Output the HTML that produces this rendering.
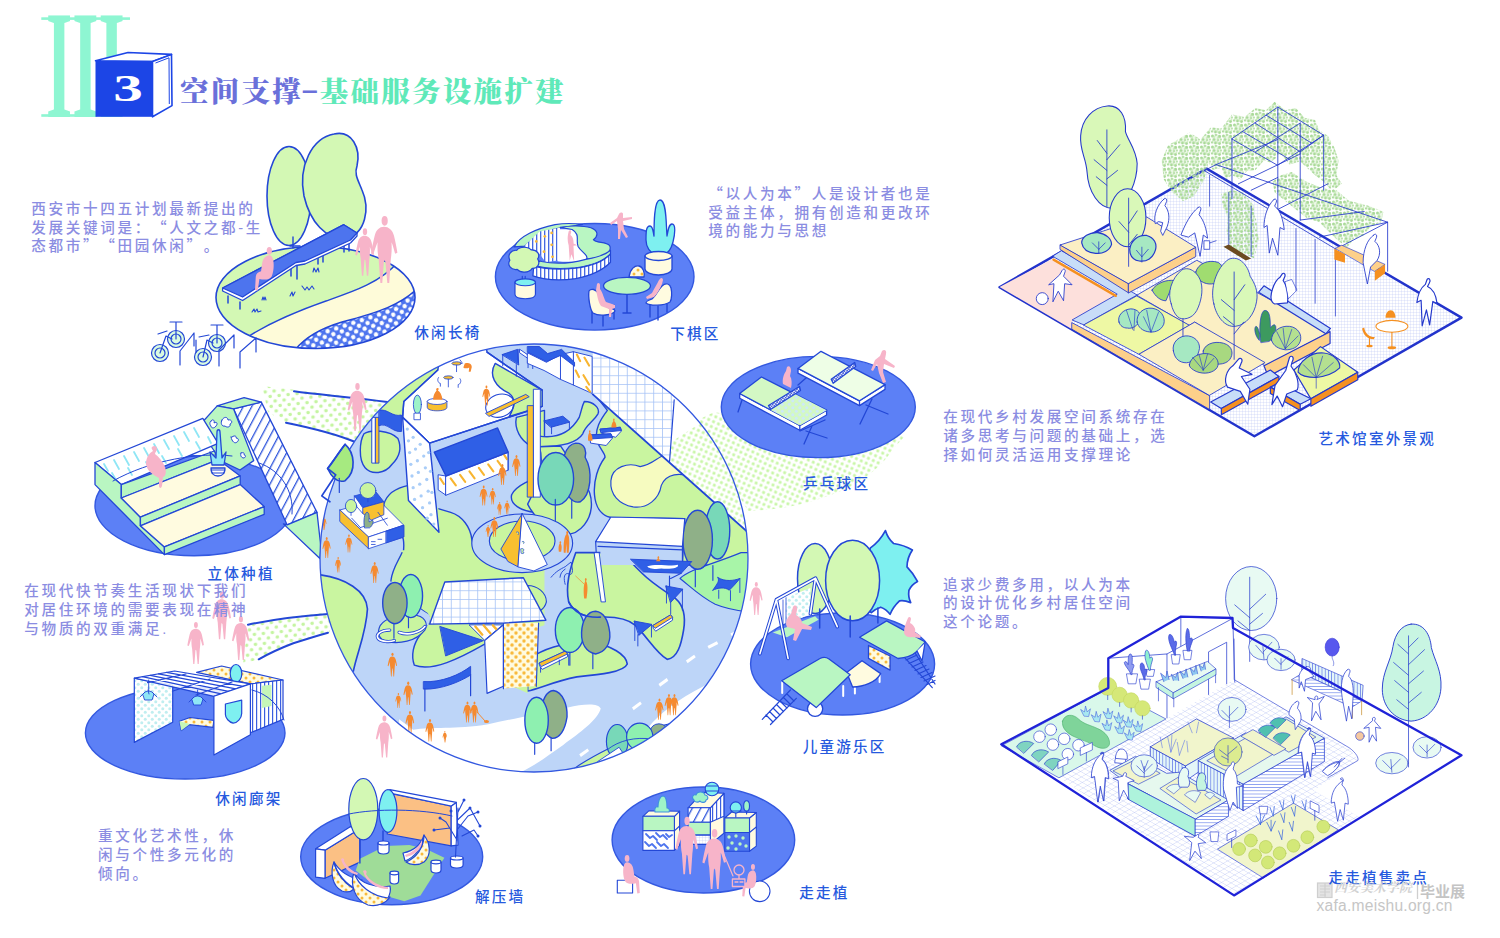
<!DOCTYPE html>
<html lang="zh-CN"><head><meta charset="utf-8"><title>空间支撑-基础服务设施扩建</title>
<style>
html,body{margin:0;padding:0;background:#fff}
#pg{position:relative;width:1500px;height:938px;overflow:hidden;background:#fff;font-family:"Liberation Sans","Noto Sans CJK SC",sans-serif}
.t{position:absolute;white-space:nowrap;color:#8b8de2;font-size:14.6px;line-height:18.75px;letter-spacing:2.65px;font-weight:500}
.l{position:absolute;white-space:nowrap;color:#2659de;font-size:14.6px;line-height:18px;letter-spacing:2.2px;font-weight:500}
.q{font-family:"Noto Sans CJK SC",sans-serif;line-height:0}
.dash{display:inline-block;width:16.7px;text-align:center;transform:scaleX(1.9) translate(-0.8px,-3.5px);letter-spacing:0}
.t,.l{text-spacing-trim:space-all;font-feature-settings:"fwid" 1}
.ttl{position:absolute;white-space:nowrap;font-family:"Liberation Serif","Noto Serif CJK SC",serif;font-weight:900;font-size:28.5px;line-height:34px;letter-spacing:2.25px}
.wm{position:absolute;white-space:nowrap;color:#c9c9c9}
svg text{font-family:"Liberation Serif","Noto Serif CJK SC",serif}
</style></head><body><div id="pg">
<svg width="1500" height="938" viewBox="0 0 1500 938" style="position:absolute;left:0;top:0">
<!-- defs.svg -->
<defs>
<pattern id="pDotB" width="9" height="9" patternUnits="userSpaceOnUse" patternTransform="rotate(-18)"><rect width="9" height="9" fill="#4d74ee"/><circle cx="2.25" cy="2.25" r="2.2" fill="#fff"/><circle cx="6.75" cy="6.75" r="2.2" fill="#fff"/></pattern>
<pattern id="pHalf" width="9" height="10" patternUnits="userSpaceOnUse" patternTransform="rotate(-6)"><circle cx="2.250" cy="2.500" r="1.800" fill="#c4f4a0"/><circle cx="6.750" cy="7.500" r="1.800" fill="#c4f4a0"/></pattern>
<pattern id="pHalf2" width="7.600" height="7.600" patternUnits="userSpaceOnUse" patternTransform="rotate(-20)"><circle cx="1.900" cy="1.900" r="1.600" fill="#c9f6a8"/><circle cx="5.700" cy="5.700" r="1.600" fill="#c9f6a8"/></pattern>
<pattern id="pGrid" width="5.2" height="5.2" patternUnits="userSpaceOnUse"><rect width="5.2" height="5.2" fill="#fff"/><path d="M0 0H5.2M0 0V5.2" stroke="#7d9af2" stroke-width="0.9" fill="none"/></pattern>
<pattern id="pGridF" width="3" height="3" patternUnits="userSpaceOnUse"><rect width="3" height="3" fill="#fff"/><path d="M0 0H3M0 0V3" stroke="#bcc6f6" stroke-width="0.55" fill="none"/></pattern>
<pattern id="pHatch" width="7.5" height="7.5" patternUnits="userSpaceOnUse" patternTransform="rotate(28)"><rect width="7.5" height="7.5" fill="#fff"/><rect width="1.3" height="7.5" fill="#2f55dc"/></pattern>
<pattern id="pDotO" width="8" height="8" patternUnits="userSpaceOnUse"><rect width="8" height="8" fill="#fffbe0"/><circle cx="2" cy="2" r="1.5" fill="#f8b93a"/><circle cx="6" cy="6" r="1.5" fill="#f8b93a"/></pattern>
<pattern id="pDotL" width="7" height="7" patternUnits="userSpaceOnUse"><rect width="7" height="7" fill="#fff"/><circle cx="1.75" cy="1.75" r="1.5" fill="#a9cdf8"/><circle cx="5.25" cy="5.25" r="1.5" fill="#a9cdf8"/></pattern>
<pattern id="pDotC" width="7" height="7" patternUnits="userSpaceOnUse"><rect width="7" height="7" fill="#fff"/><circle cx="1.75" cy="1.75" r="1.5" fill="#bfeef0"/><circle cx="5.25" cy="5.25" r="1.5" fill="#bfeef0"/></pattern>
<pattern id="pVbar" width="4" height="4" patternUnits="userSpaceOnUse"><rect width="4" height="4" fill="#fff"/><rect width="1.2" height="4" fill="#3a5fe0"/></pattern>
<pattern id="pHbar" width="3" height="3" patternUnits="userSpaceOnUse"><rect width="3" height="3" fill="#fff"/><rect width="3" height="0.9" fill="#5f7fe8"/></pattern>
<pattern id="pBrick" width="6" height="5" patternUnits="userSpaceOnUse" patternTransform="matrix(0.87 0.5 -0.87 0.5 0 0)"><rect width="6" height="5" fill="#fff"/><path d="M0 0H6M0 0V5" stroke="#b3bff3" stroke-width="0.7" fill="none"/></pattern>
<pattern id="pGridC" width="8.8" height="8.8" patternUnits="userSpaceOnUse"><rect width="8.8" height="8.8" fill="#fff"/><path d="M0 0H8.8M0 0V8.8" stroke="#a5c2f6" stroke-width="1.6" fill="none"/></pattern>
<pattern id="pDotO2" width="8" height="8" patternUnits="userSpaceOnUse"><rect width="8" height="8" fill="#fffbe0"/><circle cx="2" cy="2" r="1.700" fill="#f8b93a"/><circle cx="6" cy="6" r="1.700" fill="#f8b93a"/></pattern>
<pattern id="pVine" width="11" height="11" patternUnits="userSpaceOnUse"><g fill="#a9d998"><circle cx="1.500" cy="2" r="1.500"/><circle cx="5" cy="1" r="1.200"/><circle cx="8.500" cy="2.500" r="1.700"/><circle cx="3" cy="5.500" r="1.700"/><circle cx="7" cy="6" r="1.300"/><circle cx="10" cy="5.500" r="1"/><circle cx="1" cy="8.500" r="1.200"/><circle cx="4.500" cy="9" r="1.600"/><circle cx="8.500" cy="9.500" r="1.500"/></g><g fill="#c9ecb8"><circle cx="3.500" cy="2.800" r="1"/><circle cx="6.500" cy="3.800" r="1"/><circle cx="9.500" cy="7.800" r="1"/><circle cx="2" cy="6.800" r="0.800"/><circle cx="6.300" cy="8.300" r="0.900"/></g></pattern>
<pattern id="pVbarL" width="3.200" height="3.200" patternUnits="userSpaceOnUse"><rect width="3.200" height="3.200" fill="#e4f6f8"/><rect width="0.800" height="3.200" fill="#6f86ea"/></pattern>
<pattern id="pHbarS" width="3.200" height="3.200" patternUnits="userSpaceOnUse" patternTransform="scale(4.69)"><rect width="3.200" height="3.200" fill="#fff"/><rect width="3.200" height="0.800" fill="#7f95ee"/></pattern>
<pattern id="pVbarLS" width="3.200" height="3.200" patternUnits="userSpaceOnUse" patternTransform="scale(4.69)"><rect width="3.200" height="3.200" fill="#e4f6f8"/><rect width="0.800" height="3.200" fill="#6f86ea"/></pattern>
<pattern id="pDotL2" width="7" height="7" patternUnits="userSpaceOnUse"><rect width="7" height="7" fill="#d3f8c4"/><circle cx="1.750" cy="1.750" r="1.500" fill="#cdeaf6"/><circle cx="5.250" cy="5.250" r="1.500" fill="#cdeaf6"/></pattern>
<pattern id="pNet" width="2.200" height="2.200" patternUnits="userSpaceOnUse" patternTransform="rotate(35)"><rect width="2.200" height="2.200" fill="#e8ecfb"/><path d="M0 0H2.200M0 0V2.200" stroke="#2f4ad0" stroke-width="1.100" fill="none"/></pattern>
<pattern id="pVbarS" width="4" height="4" patternUnits="userSpaceOnUse" patternTransform="scale(5.8625)"><rect width="4" height="4" fill="#fff"/><rect width="1.200" height="4" fill="#3a5fe0"/></pattern>
<symbol id="man" viewBox="0 0 20 50" overflow="visible"><ellipse cx="10.5" cy="3.6" rx="2.3" ry="3.6"/><path d="M10 8C13.5 8 16.5 10.500 17.500 15C18.500 19 19.500 24 20 27.500L18.300 28.200C17.500 25 16.500 21.500 15.600 19.500C15.900 24 15.700 28 15.100 32L13.900 50L12.500 50L11 34L10 33L8.700 50L7.300 50L6 32C5.200 28 5 24 5.200 19.500C4.200 22 3 25.500 2 28.700L0.300 28C1 24 2 19 3 15C4 10.500 6.500 8 10 8Z"/></symbol>
<symbol id="sit" viewBox="0 0 20 40" overflow="visible"><ellipse cx="7" cy="3.5" rx="2.4" ry="3.5"/><path d="M7 7.5C11 8 13 11 13.5 15L14.5 22C17 22.5 19 24 19.3 27L20 39L17.5 39.5L16 29C12 30 7 30 5 27C3 23 2.5 16 3.5 11.5C4 9 5.5 7.5 7 7.5Z"/></symbol>
<clipPath id="cBench"><ellipse cx="315.5" cy="297.5" rx="99.5" ry="51"/></clipPath>
<clipPath id="cMain"><circle cx="534" cy="558" r="214"/></clipPath>
</defs>

<!-- halftone.svg -->
<g id="halftone" stroke-linecap="round" stroke-linejoin="round">
<path d="M262 386L296 390C330 395 352 395 388 402L400 420L358 444C336 436 310 428 286 423L268 412Z" fill="url(#pHalf)"/>
<path d="M294 391.300C320 395 350 396.700 387.300 402M286 422.700C312 428 336 434 355.300 442" fill="none" stroke="#2347d6" stroke-width="2"/>
<path d="M330 612C300 616 275 618 248 624L243 664L258.700 659.300C272 652 284 646 293.300 643.300C306 639 318 636 330 632.700Z" fill="url(#pHalf)"/>
<path d="M328 614C300 616 275 619 248 624.700M328 632.700C316 636 305 639.500 293.300 643.300C281 648 270 653 258.700 659.300" fill="none" stroke="#2347d6" stroke-width="2"/>
<path d="M690 424L714 412L760 420L905 436L893 449C886 460 878 468 867 476C854 486 840 492 825 497C800 506 775 510 748 511L730 480Z" fill="url(#pHalf2)"/>
</g>

<!-- bench.svg -->
<g id="bench" stroke-linejoin="round" stroke-linecap="round">
<g clip-path="url(#cBench)">
<rect x="215" y="245" width="202" height="106" fill="#d3f8b4"/>
<path d="M398 262C380 283 352 292 326 301C306 308 278 318 249 336L240 352L420 352L420 262Z" fill="#fefbd9" stroke="#2347d6" stroke-width="1.4"/>
<path d="M418 288C400 305 380 312 342 322C322 328 306 336 295 350L420 352Z" fill="url(#pDotB)" stroke="#2347d6" stroke-width="1.4"/>
</g>
<ellipse cx="315.5" cy="297.5" rx="99.5" ry="51" fill="none" stroke="#2347d6" stroke-width="1.6"/>
<ellipse cx="289" cy="196" rx="22" ry="49.5" fill="#d3f8b4" stroke="#2347d6" stroke-width="1.6"/>
<path d="M334 134C352 130 361 148 357 166C354 174 358 180 362 190C370 208 366 234 346 238C326 240 310 222 304 196C298 166 312 138 334 134Z" fill="#d3f8b4" stroke="#2347d6" stroke-width="1.6"/>
<path d="M293 237V248M290 246H300" stroke="#2347d6" stroke-width="1.4" fill="none"/>
<path d="M228 296V303M240 302V309M291 266V276M297 264V279M318 258V264M323 256V262M344 246V252M349 244V251" stroke="#2347d6" stroke-width="1.5" fill="none"/>
<polygon points="222.6,288 343.8,224.7 357,233 357,236 350.5,243 305,264 296,265.5 242.6,300.5 222.6,291" fill="#fff" stroke="#2347d6" stroke-width="1.3"/>
<polygon points="222.6,288 343.8,224.7 357,233 350.5,240 305,261 296,262.5 242.6,297" fill="#4d74ee" stroke="#2347d6" stroke-width="1.3"/>
<path d="M252 312l2-3 1 3 2-3 1 3 3-1M262 300l1-3 1 3 1-3 1 3M290 296l2-4 1 4 2-4M302 286l3 4 2-3 2 3 3-4 2 3M313 272l1-4 2 4 2-4 1 4" stroke="#2347d6" stroke-width="1.1" fill="none"/>
<use href="#sit" x="255" y="247" width="22" height="44" fill="#f7b4c9" transform="translate(532 0) scale(-1 1)"/>
<use href="#man" x="355" y="228" width="19" height="48" fill="#f7b4c9"/>
<use href="#man" x="369" y="216" width="30" height="67" fill="#f7b4c9"/>
<g stroke="#2347d6" stroke-width="1.2" fill="none">
<circle cx="160" cy="353" r="8.5" fill="#d9fbe0"/><circle cx="176" cy="339" r="8.5" fill="#d9fbe0"/><circle cx="160" cy="353" r="5"/><circle cx="176" cy="339" r="5"/>
<path d="M160 353L166 336L172 339M158 334L167 331M176 339V322M170 322H182"/>
<circle cx="203" cy="357" r="8.5" fill="#d9fbe0"/><circle cx="217" cy="343" r="8.5" fill="#d9fbe0"/><circle cx="203" cy="357" r="5"/><circle cx="217" cy="343" r="5"/>
<path d="M203 357L207 340L213 343M199 337L209 335M217 343V325M211 325H223"/>
<path d="M180 365V351L194 333V346M196 352V340M219 366V350L234 335V348M240 368V352L256 338V352"/>
</g>
</g>

<!-- chess.svg -->
<g id="chess" stroke-linejoin="round" stroke-linecap="round" stroke="#2347d6" stroke-width="1.3">
<ellipse cx="594.7" cy="276.8" rx="99.3" ry="53.3" fill="#5c80f6" stroke="#3358e0" stroke-width="1.4"/>
<!-- ring planter -->
<g transform="translate(480 180) scale(0.17058)" stroke-width="7">
<path d="M200 392C230 330 330 285 440 262C500 252 560 255 600 262L470 280C400 290 320 330 262 388Z" fill="#b9f6c2"/>
<polygon points="258,388 350,302 470,278 462,470 385,482 345,428" fill="url(#pVbarS)" stroke="none"/>
<g fill="#f8b93a" stroke="none"><circle cx="380" cy="330" r="8"/><circle cx="420" cy="380" r="8"/><circle cx="375" cy="420" r="8"/><circle cx="425" cy="450" r="8"/><circle cx="420" cy="310" r="8"/><circle cx="330" cy="360" r="8"/></g>
<path d="M455 288L540 288C590 320 560 380 600 420C620 440 640 452 620 468C580 482 500 482 455 476Z" fill="#fff" stroke="none"/>
<path d="M470 278C520 268 600 265 650 280C700 300 690 330 665 350C680 372 740 360 760 385C770 405 760 420 740 435C700 455 660 462 625 462C640 440 590 420 575 390C560 350 590 320 540 290Z" fill="#b9f6c2"/>
<path d="M320 500C340 480 350 470 360 478C420 490 520 492 620 465C680 455 740 435 765 412L765 432C720 480 640 505 560 515C480 522 390 522 320 500Z" fill="#b9f6c2"/>
<path d="M315 505C390 525 480 525 560 517C640 507 720 482 765 434L765 482C720 530 640 562 560 578C480 590 390 590 310 562Z" fill="url(#pVbarS)"/>
<path d="M520 300c6-10 18-6 14 8l-4 14c14 10 20 30 18 50l24 10-24 4 4 90-16-40-10 38-6-90c-10-30-6-60 0-84z" fill="#f7b4c9" stroke="none"/>
<path d="M175 470c-15-30 5-60 40-58 20-25 70-22 85-2 35-2 55 28 38 52 18 28-2 58-32 56-18 28-70 28-88 6-38 6-60-26-43-54z" fill="#d3f8b4"/>
<path d="M248 565v35M265 565v35" fill="none"/>
<path d="M205 600v70c0 16 26 26 60 26s60-10 60-26v-70z" fill="#fffbe0"/><ellipse cx="265" cy="600" rx="60" ry="20" fill="#7ef0f0"/>
</g>
<!-- cactus -->
<path d="M656 255c-6-2-10-8-10-15 0-8 0-14 4-14 3 0 3 6 4 10 0-12 0-36 6-36 7 0 6 26 7 36 1-6 2-12 5-12 4 0 3 10 1 18-2 8-6 12-10 13z" fill="#7ef0f0"/>
<path d="M645 256v13c0 3 6 6 13.500 6s13.500-3 13.500-6v-13z" fill="#fffbe0"/><ellipse cx="658.500" cy="256" rx="13.500" ry="4.500" fill="#fffbe0"/>
<!-- back chair -->
<path d="M629 277c1-8 6-12 10-11 4 1 6 7 5 11z" fill="url(#pDotO)"/>
<!-- table -->
<path d="M627 294V313M623 313H631" fill="none" stroke-width="1.5"/>
<ellipse cx="627" cy="285.800" rx="23.500" ry="8.500" fill="#b9f6c2"/>
<!-- chairs -->
<path d="M592 323V302M603 326V306M614 319V305" fill="none" stroke-width="1.4"/>
<path d="M589 291c2-3 7-2 10 3 3 5 5 11 8 13 4 1 8 2 8 4-2 4-16 6-22 2-3-3-5-16-4-22z" fill="#fffbe0"/>
<path d="M650 317V304M658 320V306M667 312V301" fill="none" stroke-width="1.4"/>
<path d="M671 288c-1-4-5-6-9-2-4 4-6 10-10 13-3 1-6 2-6 4 4 3 18 3 24-1 2-3 2-10 1-14z" fill="#fffbe0"/>
<path d="M597 284c1-2 3-1 3 1l0 4c3 4 4 10 6 13l9 3 0 3-3 1-1 8-2 0 0-8-8-3c-3-4-4-12-5-16z" fill="#f7b4c9" stroke="none"/>
<path d="M660 279c1-2 3-1 3 1l-1 4c-2 5-5 10-8 13l-7 2-1-2 6-4c2-4 5-9 7-13z" fill="#f7b4c9" stroke="none"/>
<path d="M619 214c1-2 4-2 4 0l0 4 9-1 0 2-9 2 1 8 4 8-2 1-5-8-1 9-2 0 0-10-1-8-6 4-1-2 7-5z" fill="#f7b4c9" stroke="none"/>
</g>

<!-- pingpong.svg -->
<g id="pingpong" stroke-linejoin="round" stroke-linecap="round" stroke="#2347d6" stroke-width="1.3">
<ellipse cx="818.3" cy="407" rx="97" ry="50.6" fill="#5c80f6" stroke="#3358e0" stroke-width="1.4"/>
<path d="M742 400L738 412M800 431L825 420M812 426L804 444M806 431L827 438" fill="none"/>
<polygon points="739.7,393.5 799.8,425.5 826.6,410.2 826.6,415 799.8,430.3 739.7,398.300" fill="#fff"/>
<polygon points="739.7,393.5 761.4,377 826.6,410.2 799.8,425.5" fill="#d3f8c4"/>
<polygon points="769.750,409.500 794,393.600 826.6,410.2 799.8,425.5" fill="url(#pDotL2)" stroke="none"/>
<path d="M799.8 425.5V430.3" fill="none"/>
<polygon points="768.5,405.5 799.5,386.500 800.5,390.500 770.5,409.500" fill="url(#pNet)"/>
<path d="M806 378L798 385M860 402L881 392M872 399L860 424M866 405L888 414" fill="none"/>
<polygon points="798,368.4 859.5,400.8 885,384.6 885,389.400 859.5,405.600 798,373.200" fill="#fff"/>
<polygon points="798,368.4 821,351.3 885,384.6 859.5,400.8" fill="#eefee6"/>
<path d="M859.5 400.8V405.6" fill="none"/>
<polygon points="831.2,379.300 854.7,362.500 855.7,366.500 833.2,383.300" fill="url(#pNet)"/>
<path d="M787 367c2-2 4 0 4 4l-1 5c2 3 2 8 1 12l-8-4c-1-5 1-10 3-13z" fill="#f7b4c9" stroke="none"/>
<path d="M882 351c2-2 5-1 4 3l-1 5 10 7-1 2-10-4-1 8 3 10-3 1-4-10-2-9-4 7-2-1 4-10 5-4z" fill="#f7b4c9" stroke="none"/>
</g>

<!-- planting.svg -->
<g id="planting" stroke-linejoin="round" stroke-linecap="round" stroke="#2347d6" stroke-width="1.3">
<ellipse cx="194" cy="505.7" rx="99" ry="50" fill="#5c80f6" stroke="#3358e0" stroke-width="1.4"/>
<polygon points="233.5,408.8 261.3,402.1 317.0,512.4 287.2,524.9" fill="url(#pHatch)"/>
<polygon points="287.2,524.9 317.0,512.4 321,548 319.9,558.5 283.4,523.9" fill="#b9f6c2"/>
<polygon points="217.2,405.9 244.1,397.7 261.3,402.1 233.5,408.8" fill="#b9f6c2"/>
<polygon points="198.0,427.0 217.2,405.9 233.5,408.8 253.7,460.6 240,470 218.2,459.6 214.3,451.0" fill="#b9f6c2"/>
<path d="M211 421c2-3 4 0 3 2 3-2 4 1 2 3-2 3-5 2-5 0-2-2-1-5 0-5zM222 420c2-4 6-3 6 0 4-1 5 3 2 4 1 3-3 4-5 2-3 1-5-3-3-6zM232 437c2-2 5-1 4 1 3 0 3 3 1 4-2 2-5 0-6-5zM241 453c2-1 4 0 3 2 2 0 2 2 0 3-3 0-4-3-3-5z" fill="#fff" stroke-width="1"/>
<polygon points="95.0,462.5 202.8,418.4 218.2,443.3 121.3,484.6" fill="#fff"/>
<g stroke="#8fe6f5" stroke-width="1.8" fill="none"><path d="M104 464l4 7M114 460l5 9M124 456l5 9M134 452l5 9M144 448l5 9M154 444l5 9M164 440l5 9M174 436l5 9M184 432l5 9M194 428l5 9M112 473l4 7M128 468l4 7M146 462l4 7M162 456l4 7M178 449l4 7M196 442l4 7M208 437l3 6"/></g>
<polygon points="95.0,462.5 121.3,484.6 121.3,498.0 140.4,517.2 140.4,525.8 164.4,546.9 164.4,554.6 95.0,484.6" fill="#b9f6c2"/>
<polygon points="121.3,484.6 214.3,451.0 218.2,459.6 121.3,498.0" fill="#b9f6c2"/>
<polygon points="121.3,498.0 218.2,459.6 240.2,475.9 140.4,517.2" fill="#fffbe0"/>
<polygon points="140.4,517.2 240.2,475.9 240.2,484.6 140.4,525.8" fill="#b9f6c2"/>
<polygon points="140.4,525.8 240.2,484.6 264.2,506.6 164.4,546.9" fill="#fffbe0"/>
<polygon points="164.4,546.9 264.2,506.6 264.2,514.3 164.4,554.6" fill="#b9f6c2"/>
<path d="M113 481C150 460 200 452 232 456M259 463C280 470 294 490 292 514" fill="none" stroke-width="1"/>
<path d="M211 468c0 6 3 8 7 8s7-2 7-8z" fill="#fff"/><path d="M211 470h14M212 473h12" fill="none" stroke-width="1"/>
<path d="M210 452l2 13h12l2-13-4 6-2-26c0-3-3-3-3 0l-1 26z" fill="#8fe6f5"/>
<path d="M152 447c2-2 5-1 5 2 0 2-2 3-2 5 4 3 8 8 10 13 2 6 0 10-2 10l-1 9c-1 3-3 2-3 0l0-8c-6-3-12-7-13-14 0-6 3-11 7-13-1-2-2-3-1-4z" fill="#f7b4c9" stroke="none"/>
</g>

<!-- pergola.svg -->
<g id="pergola" stroke-linejoin="round" stroke-linecap="round" stroke="#2347d6" stroke-width="1.2">
<ellipse cx="185.2" cy="733" rx="99.8" ry="46" fill="#5c80f6" stroke="#3358e0" stroke-width="1.4"/>
<polygon points="196.6,672.4 221.6,666.0 283.0,680.0 250.4,683.9" fill="url(#pDotO)"/>
<polygon points="250.4,683.9 283.0,680.0 283.0,719.4 250.4,732.8" fill="url(#pVbar)"/>
<polygon points="261.9,685.8 271.5,684.8 271.5,705.9 261.9,707.9" fill="#c5f6b8" stroke="none"/>
<ellipse cx="236" cy="673.5" rx="5.800" ry="9" fill="#7ef0f0"/>
<polygon points="134.3,678.1 134.3,742.4 172.7,722.3 172.7,685.2" fill="url(#pDotC)"/>
<polygon points="134.3,678.1 174.6,671.0 250.4,683.9 213.9,696.3" fill="#fff" fill-opacity="0.85"/>
<path d="M142.400 676.700L221.200 693.800M150.400 675.300L228.500 691.300M158.500 673.800L235.800 688.900M166.500 672.400L243.100 686.400M147.500 682.600L186 674M173 691L210 679M196 695L232 682" fill="none"/>
<polygon points="179.4,721.3 189.9,717.5 213.9,720.3 213.0,727.4 189.0,724.7 181.3,730.5" fill="url(#pDotO)"/>
<polygon points="179.4,721.3 189.900,724 181.3,730.5" fill="#c5f6b8" stroke="none"/>
<polygon points="213.9,696.3 250.4,683.9 250.4,734.7 213.9,754.9" fill="#fff"/>
<path d="M225.4 704L241.7 700.2V713.600C241.700 718 237 723.200 233.100 723.200C229 722 225.400 718 225.400 714.600Z" fill="#7ef0f0"/>
<path d="M148.700 680V694M197.600 690V699" fill="none" stroke-width="0.9"/>
<path d="M143 694c3-4 8-4 11 0l-2 6h-7zM140 697l5-5M157 697l-5-5M148 690l1 4M192 699c3-4 8-4 11 0l-2 6h-7zM189 702l5-5M206 702l-5-5" fill="#8fe6f5" stroke-width="0.9"/>
<path d="M252 690C268 694 280 706 284 720" fill="none" stroke-width="1"/>
<use href="#man" x="187" y="622" width="17" height="42" fill="#f7b4c9" stroke="none"/>
<use href="#man" x="212" y="589.500" width="19" height="52" fill="#f7b4c9" stroke="none"/>
<use href="#man" x="230" y="616" width="21" height="44" fill="#f7b4c9" stroke="none"/>
</g>

<!-- wall.svg -->
<g id="wall" stroke-linejoin="round" stroke-linecap="round" stroke="#2347d6" stroke-width="1.2">
<ellipse cx="391.7" cy="856.8" rx="91" ry="48" fill="#5c80f6" stroke="#3358e0" stroke-width="1.4"/>
<polygon points="392.3,793.9 451.2,805.8 451.2,845.9 387.2,834.0" fill="#fbc084"/>
<polygon points="389.8,789.6 456.3,802.4 451.2,806.2 392.3,793.5" fill="#fff"/>
<polygon points="451.2,806.2 456.3,802.4 458.0,845.1 451.2,845.9" fill="#fff"/>
<polygon points="325.0,850.2 359.9,828.8 359.9,862.1 325.0,878.3" fill="#fbc084"/>
<polygon points="315.6,848.8 350.6,826.6 359.9,828.8 325.0,850.2" fill="#fff"/>
<polygon points="315.6,848.8 325.0,850.2 325.0,878.3 315.6,877.1" fill="#fff"/>
<polygon points="359.9,858.7 385.5,845.9 409.4,845.1 426.5,849.3 444.4,857.8 420.5,895.4 404.3,901.3 389.8,897.1 355.7,870.6" fill="#9fdc98" stroke="none"/>
<path d="M359.900 838V863M383 831V843" fill="none" stroke-width="1.4"/>
<ellipse cx="388" cy="811" rx="8.900" ry="21.300" fill="#7ef0f0"/>
<ellipse cx="363.3" cy="809.2" rx="14.500" ry="30.700" fill="#d3f8b4"/>
<path d="M349 814C375 808.500 420 808.500 452 816" fill="none" stroke-width="1"/>
<g fill="#fff"><path d="M378 843v8c0 2 2.500 3 5.500 3s5.500-1 5.500-3v-8z"/><ellipse cx="383.500" cy="843" rx="5.500" ry="2"/>
<path d="M390 873v8c0 2 2 3 4.300 3s4.300-1 4.300-3v-8z"/><ellipse cx="394.300" cy="873" rx="4.300" ry="1.800"/>
<path d="M431 862v8c0 2 2.500 3 5 3s5-1 5-3v-8z"/><ellipse cx="436" cy="862" rx="5" ry="1.800"/>
<path d="M450.500 858v7c0 2 3 3 6.300 3s6.300-1 6.300-3v-7z"/><ellipse cx="456.800" cy="858" rx="6.300" ry="2"/></g>
<path d="M455.500 857L458 808M457 840L446 822L440 818M450 828L434 830M457 830L468 816L478 812M457.500 820L470 808L480 826M458 812L464 800M462 836L474 830L478 836" fill="none" stroke-width="1.100"/>
<g fill="#2347d6" stroke="none"><circle cx="440" cy="818" r="1.500"/><circle cx="434" cy="830" r="1.500"/><circle cx="478" cy="812" r="1.500"/><circle cx="470" cy="808" r="1.500"/><circle cx="480" cy="826" r="1.500"/><circle cx="464" cy="800" r="1.500"/><circle cx="451" cy="811" r="1.500"/><circle cx="478" cy="836" r="1.500"/></g>
<path d="M334 862c-4 10-2 24 8 29 6 2 10 0 12-2-10-6-18-16-20-27z" fill="url(#pDotO)"/><path d="M334 862c3 12 12 22 22 27l6-9c-12-2-22-8-28-18z" fill="#fff"/>
<path d="M354 872c-4 12 0 28 14 33 10 2 18-2 22-8-14-2-30-10-36-25z" fill="url(#pDotO)"/><path d="M354 872c4 14 18 24 34 26 2-4 3-8 2-12-14 2-30-2-36-14z" fill="#fff"/>
<path d="M424 835c6 8 8 20 0 27-6 4-14 3-18 0 10-4 18-14 18-27z" fill="url(#pDotO)"/><path d="M424 835c-1 12-9 22-19 26l-2-8c10-2 18-8 21-18z" fill="#fff"/>
<path d="M341 859c2-2 4 0 3 2 3 6 8 10 14 12l-1 2c-8-2-14-8-16-16zM363 871c2-2 5 0 3 3 4 8 14 12 22 13l0 2c-10 0-22-6-25-18zM422 840c1 6-4 14-16 17l-1-2c8-3 14-8 17-15z" fill="#f7b4c9" stroke="none"/>
</g>

<!-- zzz.svg -->
<g id="zzz" stroke-linejoin="round" stroke-linecap="round" stroke="#2347d6" stroke-width="1.1">
<ellipse cx="703.4" cy="840" rx="91.3" ry="53" fill="#5c80f6" stroke="#3358e0" stroke-width="1.4"/>
<!-- box1 -->
<polygon points="674.4,816.3 679.6,811.2 679.6,845.3 674.4,850.4" fill="#fffbe0"/>
<polygon points="642.9,816.3 648.8,810.8 679.6,811.2 674.4,816.3" fill="#fffbe0"/>
<rect x="642.9" y="816.3" width="31.5" height="14.5" fill="#b9f6c2"/>
<rect x="642.9" y="830.8" width="31.5" height="19.6" fill="#fff"/>
<path d="M646 834l4 4 3-2 4 4M656 833l4 4 3-2 4 4M666 834l3 3 3-2M645 842l4 4 3-2 4 4M657 842l4 4 3-2 4 4" stroke="#4d74ee" stroke-width="1.800" fill="none"/>
<path d="M674.4 830.8L679.6 826" fill="none"/>
<path d="M655 812c-1-4 1-6 3-5 0-6 2-11 5-11 3 0 4 6 4 12 2 0 3 2 2 4z" fill="#9ef3c8" stroke="#3f8fe0"/>
<!-- box2 -->
<polygon points="710.3,807.8 723.9,793.3 723.9,833.3 710.3,844.4" fill="#fffbe0"/>
<polygon points="710.3,807.8 723.9,793.3 723.9,816.300 710.3,822.300" fill="url(#pVbar)"/>
<polygon points="688.1,807.8 702.6,792.4 723.9,793.3 710.3,807.8" fill="#fffbe0"/>
<rect x="688.1" y="807.8" width="22.2" height="14.5" fill="url(#pHatch)"/>
<rect x="688.1" y="822.3" width="22.2" height="12.8" fill="#b9f6c2"/>
<rect x="688.1" y="835.1" width="22.2" height="9.3" fill="url(#pGridF)"/>
<path d="M694 800c-3-2-1-6 2-5 1-4 8-4 9 0 3 0 4 4 1 5 0 3-5 3-6 1-2 2-6 1-6-1z" fill="#9ef3c8" stroke="#3f8fe0"/>
<circle cx="712" cy="789" r="6.800" fill="#7ef0f0"/><path d="M706 786h12M706 791h12" fill="none"/>
<!-- box3 -->
<polygon points="749.5,818.0 756.3,812.5 756.3,846.1 749.5,851.3" fill="#fffbe0"/>
<polygon points="724.8,818.0 731.6,812.0 756.3,812.5 749.5,818.0" fill="#fffbe0"/>
<rect x="724.8" y="818" width="24.7" height="14.5" fill="#b9f6c2"/>
<rect x="724.8" y="832.5" width="24.7" height="18.8" fill="#4d74ee"/>
<g fill="#b9f6c2" stroke="none"><circle cx="729" cy="837" r="1.700"/><circle cx="736" cy="836" r="1.700"/><circle cx="743" cy="838" r="1.700"/><circle cx="732" cy="843" r="1.700"/><circle cx="740" cy="844" r="1.700"/><circle cx="746" cy="846" r="1.700"/><circle cx="728" cy="848" r="1.700"/><circle cx="736" cy="849" r="1.700"/></g>
<path d="M749.5 832.5L756.3 827" fill="none"/>
<circle cx="735.800" cy="807.500" r="5.600" fill="#7ef0f0"/><path d="M735.800 813v4M731 811h10" fill="none"/>
<ellipse cx="746.600" cy="806" rx="2.900" ry="5.200" fill="#9ef3c8"/><path d="M746.600 811v3" fill="none"/>
<!-- people -->
<use href="#man" x="675" y="816" width="23" height="59" fill="#f7b4c9" stroke="none"/>
<use href="#man" x="702" y="829" width="24" height="60" fill="#f7b4c9" stroke="none"/>
<path d="M722 850L733 876" stroke="#f7b4c9" stroke-width="1.200" fill="none"/>
<rect x="617.3" y="880.3" width="15.3" height="12.7" fill="#fff"/>
<use href="#sit" x="620" y="855" width="20" height="39" fill="#f7b4c9" stroke="none"/>
<circle cx="759.700" cy="891.300" r="10.300" fill="#fff"/>
<use href="#sit" x="741" y="864" width="17" height="33" fill="#f7b4c9" stroke="none" transform="translate(1500 0) scale(-1 1)"/>
<g stroke="#f7b4c9" fill="none" stroke-width="1.300"><circle cx="739" cy="870" r="5"/><path d="M739 875v4"/><rect x="732.400" y="879" width="12.500" height="7.500" fill="#5c80f6"/><path d="M735 882h3M740 882h3"/></g>
</g>

<!-- play.svg -->
<g id="play" stroke-linejoin="round" stroke-linecap="round" stroke="#2347d6" stroke-width="1.3">
<ellipse cx="842.6" cy="664" rx="92" ry="51" fill="#5c80f6" stroke="#3358e0" stroke-width="1.4"/>
<path d="M870.200 548.100Q880 541 885.400 530.600Q888 539 893.600 543.500Q904 545 912.400 550Q907 558 907 566.900Q913 573 917.500 581.400Q911 585 908.900 590.400Q908 597 910.700 602.600Q904 600 899.500 600.900Q893 607 890.100 614.300Q886 609 880.700 607.200Q875 609 871.300 612.600L866.700 609.100L866.700 578.600Z" fill="#7ef0f0" stroke-width="1.700"/>
<ellipse cx="815.1" cy="578.6" rx="17.600" ry="35" fill="#d3f8b4" stroke-width="1.500"/>
<ellipse cx="852.6" cy="580.5" rx="27" ry="40.300" fill="#d3f8b4" stroke-width="1.500"/>
<path d="M819.7 609V628M850.2 616V637M877.9 608V623" fill="none" stroke-width="1.500"/>
<!-- swing -->
<polygon points="785.7,597.4 810.4,588.0 810.4,613.8 785.7,625.5" fill="url(#pDotC)" stroke="none"/>
<polygon points="772.8,632.6 815.1,616.2 818.6,619.7 786.9,637.3" fill="#b9f6c2" stroke="none"/>
<g fill="none" stroke="#2347d6" stroke-width="3.600"><path d="M759.9 653.700L776.4 599.700L788.100 658.400M810.400 613.800L815.500 578.200L837.300 626.700M776.400 599.700L815.500 578.200"/></g>
<g fill="none" stroke="#fff" stroke-width="1.600"><path d="M759.9 653.700L776.4 599.700L788.100 658.400M810.400 613.800L815.500 578.200L837.300 626.700M776.400 599.700L815.500 578.200"/></g>
<path d="M783 600V628M786 598V626" fill="none" stroke-width="0.800"/>
<path d="M793 607c2-3 5-1 4 3l-1 5c4 2 6 5 6 8l10 4-1 3-9-1-6 12-3-1 2-11-8-2c-2-4 0-10 4-13z" fill="#f7b4c9" stroke="none"/>
<!-- platform right -->
<polygon points="868.5,645.5 890.1,656.0 890.1,670.1 868.5,658.4" fill="url(#pDotO)"/>
<g fill="none" stroke-width="1.200"><path d="M904.200 657.200L932.300 687.700M914.700 652.500L935 684M906 660l11-5M909 663.500l11-5M912 667l11-5M915 670.500l11-5M918 674l11-5M921 677.500l11-5M924 681l11-5M927 684.500l8-4"/></g>
<path d="M859.6 637.3L886.6 620.9L925.3 642L917.1 651.3C912 656 906 658 898 658.500Z" fill="#b9f6c2"/>
<path d="M917 651l5 10 3-18" fill="#fff"/>
<path d="M908 618c1-2 3-1 3 1l-1 4c4 2 6 6 5 9l6 4-1 2-8-1c-5 1-8-2-8-5 0-5 2-9 4-14z" fill="#f7b4c9" stroke="none"/>
<!-- table + platform left -->
<path d="M843.200 686V696M854.900 688V693.600M879.600 675V682" fill="none" stroke="#fff" stroke-width="2"/>
<path d="M846.700 672.500L862 660.700L880.700 673.600C876 682 864 687 852.600 687Z" fill="#fffbe0"/>
<circle cx="815.100" cy="708.800" r="7.600" fill="#fff"/>
<g fill="none" stroke-width="1.200"><path d="M790.400 690L762.300 719.400M796.300 698.300L770.500 724.500M787 694l7 7M783.500 697.500l7 7M780 701l7 7M776.500 704.500l7 7M773 708l7 7M769.500 711.500l7 7M766 715l7 7"/></g>
<path d="M782.200 682V693" fill="none" stroke="#fff" stroke-width="2"/>
<path d="M781.7 680.700L820 658.500C823 657 826 657 829 659L850.200 674.800L816.200 707.600Z" fill="#b9f6c2"/>
<use href="#man" x="749" y="582" width="14" height="33" fill="#f7b4c9" stroke="none"/>
</g>

<!-- circle.svg -->
<g id="main">
<circle cx="534" cy="558" r="214" fill="#bdd5f8"/>
<g clip-path="url(#cMain)" stroke-linejoin="round" stroke-linecap="round">
<g transform="translate(310 340) scale(0.23447)" stroke="#2347d6" stroke-width="6">
<!-- green strip top-left -->
<path d="M300 300L330 262L560 60L545 128C500 170 430 235 400 262L395 330Z" fill="#c9f5a0" stroke="none"/>
<!-- big green lawn bottom (Q1 part) -->
<path d="M420 620C370 630 330 650 315 700C310 740 380 790 398 850C405 890 395 920 390 990L780 990C740 930 700 900 690 850C685 800 650 750 600 735L550 720Z" fill="#c9f5a0" stroke="none"/><path d="M420 620C370 630 330 650 315 700C310 740 380 790 398 850C405 890 395 920 392 960M760 940C720 915 695 890 690 850C685 800 650 750 600 735L550 720" fill="none"/>
<!-- green blob w/ post -->
<path d="M230 400C260 380 340 385 375 420C392 460 380 500 350 530C320 572 262 576 235 545C205 510 212 430 230 400Z" fill="#c9f5a0"/>
<!-- green right (around column) -->
<path d="M880 330C870 380 900 430 940 450L1000 470L1000 300Z" fill="#c9f5a0"/>
<path d="M1000 580C950 590 880 620 860 660C850 700 900 730 960 735L1000 740Z" fill="#c9f5a0"/>
<!-- green around pyramid -->

</g>
<g transform="translate(530 340) scale(0.23447)" stroke="#2347d6" stroke-width="6">
<!-- zone A band -->
<path d="M40 410C110 420 170 400 210 330C220 300 222 280 232 262C270 262 300 290 290 315C270 350 240 360 225 400C200 440 130 455 40 455Z" fill="#c9f5a0"/>
<!-- zone B main lawn -->
<path d="M330 300C300 340 275 380 285 430C300 470 320 480 320 500C290 540 270 600 275 660C280 720 310 750 345 757L660 762L650 960L1010 960L1010 880L290 250Z" fill="#c9f5a0"/>
<path d="M345 600C350 540 420 520 470 540C540 530 560 470 600 500L700 590C640 560 580 570 560 620C550 680 500 720 440 712C380 700 340 660 345 600Z" fill="#f6fbc0" stroke-width="5"/>
<!-- zone C (under trees) -->
<path d="M40 455C60 520 40 600 10 660L-10 700C20 760 80 820 150 830C220 830 262 760 262 700C262 660 250 640 230 600L130 452Z" fill="#c9f5a0"/>
<path d="M-10 830C40 840 80 880 100 960L-10 960Z" fill="#c9f5a0"/>
</g>
<g transform="translate(310 555) scale(0.23447)" stroke="#2347d6" stroke-width="6">
<!-- white plaza bottom -->
<path d="M380 700L440 745C520 732 620 745 760 722C860 700 960 680 1100 650C1160 636 1230 628 1240 655C1230 700 1150 760 1080 810C1020 850 960 900 890 930L880 960L380 960Z" fill="#fff" stroke="none"/>
<!-- left edge green -->
<path d="M-10 50L45 85C150 100 240 150 245 230C240 330 200 420 185 495L100 520L-10 300Z" fill="#c9f5a0" stroke="none"/>
<path d="M45 85C150 100 240 150 245 230C240 330 200 420 185 495" fill="none" stroke-width="7"/>
<!-- big lawn continuation -->
<path d="M392 -20C380 20 350 60 345 110C350 140 470 230 500 250C520 280 500 300 470 340C440 380 430 430 445 470C520 500 640 440 745 380L1000 300L1000 -20Z" fill="#c9f5a0" stroke="none"/><path d="M392 -10C380 20 350 60 345 110C350 140 470 230 500 250C520 280 500 300 470 340C440 380 430 430 445 470C520 500 640 440 745 380" fill="none"/>
<!-- light blue gap around tree base -->
<path d="M345 110C330 170 290 240 280 320C300 380 420 390 470 340C520 290 520 260 500 250C460 225 400 180 345 110Z" fill="#bdd5f8" stroke="none"/>
<path d="M300 300C320 270 380 250 440 255C490 260 505 290 490 320C450 370 380 380 330 370C290 360 285 330 300 300Z" fill="#c9f5a0" stroke-width="5"/>
<!-- pyramid ring -->
<ellipse cx="905" cy="-50" rx="215" ry="125" fill="#bdd5f8" stroke-width="5"/>
<ellipse cx="905" cy="-60" rx="140" ry="85" fill="#c9f5a0" stroke-width="5"/>
</g>
<g transform="translate(530 555) scale(0.23447)" stroke="#2347d6" stroke-width="6">
<!-- white strip right of road -->
<path d="M505 735C550 680 630 615 740 560L830 515L830 720L600 820Z" fill="#fff" stroke="none"/>
<!-- mint lawn top right -->
<path d="M640 100C680 60 780 40 900 -10L1000 -10L1000 250C930 245 850 235 790 210C730 180 690 140 640 100Z" fill="#a8f5a8" stroke-width="5"/>
<!-- left-mid lawn -->
<path d="M-10 445C60 400 130 375 250 370C350 385 410 425 415 465C400 500 300 510 200 520C100 540 40 570 -10 580Z" fill="#c9f5a0" stroke-width="7"/>
<!-- big lawn top -->
<path d="M195 -10C170 60 150 130 165 200C190 250 240 268 300 265C370 262 420 275 450 300C500 350 540 420 585 445C630 440 645 380 655 320C665 260 655 215 620 185C570 150 520 120 480 80C450 50 420 20 395 -10Z" fill="#c9f5a0" stroke-width="7"/>
<!-- lawn far left top (around white roof) -->
<path d="M-10 130C30 130 70 160 70 200C60 240 20 250 -10 250Z" fill="#c9f5a0" stroke-width="5"/>
<!-- bottom green -->
<path d="M190 910C260 858 330 830 400 792C480 752 560 726 620 715L620 960L190 960Z" fill="#c9f5a0" stroke-width="5"/>
<!-- orange-dotted lower green bump (Q3 side) -->
<path d="M-10 420C-40 450 -70 500 -75 560L-10 590Z" fill="#c9f5a0" stroke="none"/>
</g>
<g transform="translate(310 340) scale(0.23447)" stroke="#2347d6" stroke-width="6">
<!-- platform white -->
<path d="M395 330L400 262C430 235 500 170 545 128L560 40L750 20L755 52L990 214L990 283L510 440Z" fill="#fff"/>
<path d="M790 100C760 150 790 200 850 228C880 250 870 290 850 326L990 283L990 214Z" fill="#c9f5a0"/>
<path d="M755 52L990 214M395 330L510 440L990 283M545 128C500 170 430 235 400 262L395 330" fill="none"/>
<ellipse cx="810" cy="280" rx="62" ry="48" fill="none" stroke-width="4.500" transform="rotate(-20 810 280)"/>
<polygon points="750,312 920,232 935,242 765,325" fill="#f8c030" stroke-width="4"/>
<!-- top-right triangle: ground (light blue) w/ flag + bench -->
<polygon points="820,62 885,40 890,105 " fill="#2f5fe6" stroke-width="4"/>
<path d="M822 62V110M880 105V155M888 40V95" fill="none" stroke-width="4"/>
<polygon points="895,40 960,85 960,100 895,55" fill="#fff" stroke-width="4"/>
<path d="M930 90V118M950 95V122" fill="none" stroke-width="4"/>
<!-- wall panel dotted -->
<polygon points="395,330 510,440 550,820 420,685" fill="#fff"/>
<g fill="#a9cdf8" stroke="none"><circle cx="415" cy="380" r="7"/><circle cx="440" cy="415" r="7"/><circle cx="470" cy="445" r="7"/><circle cx="420" cy="430" r="7"/><circle cx="450" cy="465" r="7"/><circle cx="485" cy="495" r="7"/><circle cx="425" cy="480" r="7"/><circle cx="458" cy="515" r="7"/><circle cx="492" cy="545" r="7"/><circle cx="430" cy="530" r="7"/><circle cx="462" cy="565" r="7"/><circle cx="498" cy="595" r="7"/><circle cx="435" cy="580" r="7"/><circle cx="468" cy="615" r="7"/><circle cx="504" cy="645" r="7"/><circle cx="440" cy="630" r="7"/><circle cx="474" cy="665" r="7"/><circle cx="510" cy="695" r="7"/><circle cx="446" cy="680" r="7"/><circle cx="480" cy="715" r="7"/><circle cx="516" cy="745" r="7"/><circle cx="500" cy="760" r="7"/><circle cx="528" cy="785" r="7"/><circle cx="520" cy="650" r="7"/><circle cx="514" cy="560" r="7"/><circle cx="506" cy="480" r="7"/></g>
<!-- canopy -->
<polygon points="548,575 580,580 580,662 548,640" fill="#fff" stroke-width="4"/>
<polygon points="580,580 845,480 845,555 580,662" fill="#fff" stroke-width="4"/>
<g stroke="#f8b530" stroke-width="9" fill="none"><path d="M600 590l22 30M640 575l22 30M680 560l22 30M720 545l22 30M760 530l22 30M800 515l22 30M828 490l12 18M555 590l16 24"/></g>
<polygon points="530,478 800,375 845,478 580,580" fill="#2f5fe6"/>
<path d="M845 478V555" fill="none" stroke-width="4"/>
<!-- column -->

<!-- post + flag -->
<rect x="265" y="330" width="15" height="195" fill="#fff" stroke-width="4"/><rect x="280" y="330" width="14" height="195" fill="#f8c030" stroke-width="4"/>
<path d="M295 300C330 290 350 330 390 320L390 390C350 395 330 350 295 365Z" fill="#2f5fe6" stroke-width="4"/>
<!-- cafe stuff on platform -->
<g stroke-width="3.500"><ellipse cx="625" cy="100" rx="20" ry="7" fill="#f8c030"/><path d="M625 107V135" fill="none"/><ellipse cx="590" cy="160" rx="20" ry="7" fill="#f8c030"/><path d="M590 167V200" fill="none"/>
<path d="M548 160c-8 10 0 25 8 25v12M640 165c8 10 0 25-8 25v12M640 85l10 14" fill="none"/>
<path d="M500 262v25c0 10 20 15 42 15s42-5 42-15v-25z" fill="#f8c030"/><ellipse cx="542" cy="262" rx="42" ry="13" fill="#fff"/>
<ellipse cx="458" cy="275" rx="17" ry="40" fill="#9ef3c8"/><rect x="445" y="312" width="26" height="28" fill="#fff"/></g>
<g fill="#f58a30" stroke="none"><path d="M545 205c5 0 5 8 0 10 10 5 18 20 20 40h-40c0-15 5-30 15-40-4-3-2-10 5-10z"/><path d="M660 100c15-5 30 0 30 15l-5 20h-8l2-18c-8 5-20 5-25 0z"/></g>
<!-- block cluster -->
<g stroke-width="3.500">
<polygon points="128,725 290,680 400,790 250,840" fill="#fff"/>
<polygon points="128,725 250,840 250,890 128,775" fill="#f8c030"/>
<polygon points="250,840 400,790 400,840 250,890" fill="#fff"/>
<polygon points="325,815 400,790 400,840 325,865" fill="#2f5fe6"/>
<polygon points="190,665 275,640 315,690 225,715" fill="#2f5fe6"/>
<polygon points="225,715 315,690 315,745 262,768 225,740" fill="#f8c030"/>
<polygon points="190,665 225,715 225,740 190,700" fill="#fff"/>
<path d="M178 760L215 800M215 800L330 760M290 735L330 790M262 860h16M290 850h16M262 872h16" fill="none"/>
<circle cx="247" cy="642" r="34" fill="#c9f5a0"/><path d="M247 676v14" fill="none"/>
<ellipse cx="175" cy="708" rx="24" ry="28" fill="#c9f5a0"/><path d="M175 736v12" fill="none"/>
<path d="M232 800c-5-30 0-65 12-65 10 0 8 25 8 40 5 2 10-10 16-5 5 8-5 25-12 30z" fill="#8fb088"/>
</g>
<!-- pyramid -->
<polygon points="815,890 905,740 888,968 845,945" fill="#f8c030" stroke-width="4"/>
<polygon points="905,740 1012,958 955,985 888,968" fill="#fff" stroke-width="4"/>
<path d="M880 820c8-6 14 2 8 10M905 860c6-4 12 2 6 8M900 890c10-4 16 4 8 12 8 4 4 12-6 8z" fill="#c9f5a0" stroke-width="3"/>
</g>
<g transform="translate(530 340) scale(0.23447)" stroke="#2347d6" stroke-width="6">
<!-- white wall right of diagonal -->
<polygon points="268,232 268,0 1010,0 1010,895 920,812" fill="#fff" stroke="none"/>
<g transform="scale(4.265)"><polygon points="140.0,103.2 150.1,95.9 181.9,76.0 236.8,42.2 236.8,209.8 215.7,190.4 139.5,121.9" fill="url(#pHalf2)" stroke="none"/></g>
<g transform="scale(4.265)"><polygon points="62.8,0.0 145.4,0.0 144.2,59.8 139.5,121.9 62.8,54.4" fill="url(#pGridC)" stroke="none"/></g>
<path d="M268 232L920 812L1010 895" fill="none" stroke-width="8"/>
<path d="M615 255L595 520" fill="none" stroke-width="5"/>
<!-- orange dashed panel + white bldg -->
<polygon points="185,50 265,70 265,228 185,192" fill="#fff" stroke-width="4"/>
<g stroke="#f8b530" stroke-width="9" fill="none"><path d="M200 62l14 28M232 75l20 34M195 130l14 28M228 150l24 40M240 200l16 20"/></g>
<polygon points="130,62 185,50 185,192 130,168" fill="#fff" stroke-width="4"/>
<polygon points="-10,55 70,95 130,62 130,168 60,130 -10,100" fill="#fff" stroke-width="4"/>
<polygon points="-10,28 40,28 75,58 135,40 190,95 190,112 130,66 70,92 -10,52" fill="#2f5fe6" stroke-width="4"/>
<!-- column -->
<rect x="-10" y="280" width="26" height="390" fill="#f8c030" stroke-width="4"/><rect x="16" y="210" width="28" height="460" fill="#fff" stroke-width="4"/>
<!-- bench + tables -->
<polygon points="60,345 140,325 170,350 90,372" fill="#2f5fe6" stroke-width="4"/><path d="M62 348V385M92 372V400M168 352V378" fill="none" stroke-width="4"/>
<polygon points="300,380 385,372 390,388 365,415 305,397" fill="#fff" stroke-width="4"/><polygon points="300,380 385,372 390,386 305,395" fill="#2f5fe6" stroke-width="4"/>
<polygon points="255,405 345,400 352,418 325,450 260,440" fill="#fff" stroke-width="4"/><polygon points="255,405 345,400 352,416 260,422" fill="#2f5fe6" stroke-width="4"/>
<!-- trees -->
<path d="M195 440C240 440 240 480 235 500C270 560 260 660 215 690C180 700 150 660 140 600C130 520 150 445 195 440Z" fill="#8fb088"/>
<ellipse cx="110" cy="592" rx="76" ry="112" fill="#78d8b8"/>
<path d="M108 680V770M178 680V760" fill="none" stroke-width="5"/>
<ellipse cx="800" cy="812" rx="52" ry="122" fill="#78d8b8"/>
<ellipse cx="715" cy="852" rx="63" ry="126" fill="#8fb088"/>
<!-- pavilion -->
<polygon points="300,880 650,890 650,960 300,960" fill="#bdd5f8" stroke="none"/>
<polygon points="345,755 660,762 650,880 280,860" fill="#fff" stroke-width="5"/>
<path d="M280 860L285 960M650 880V960M290 880L650 895" fill="none" stroke-width="5"/>
<g fill="#f58a30" stroke="none"><path d="M358 335c4 0 4 8 1 10 6 5 10 15 10 28h-22c0-12 4-22 9-28-3-3-2-10 2-10z"/><path d="M255 385c4 0 4 8 1 10 8 8 12 20 10 35h-18c-2-15 0-27 5-35-2-3-2-10 2-10z"/><path d="M160 815c5 0 5 10 1 12 8 10 8 40 4 80h-8l-2-40-3 40h-8c-2-40 2-70 12-80-3-3-2-12 4-12z"/><path d="M130 858c4 0 4 8 1 10 5 8 5 20 2 35h-10c-2-15-2-27 4-35-2-3-2-10 3-10z"/></g>
</g>
<g transform="translate(310 555) scale(0.23447)" stroke="#2347d6" stroke-width="6">
<!-- pyramid bottom -->
<!-- white curved bench -->
<path d="M340 320C300 320 280 340 290 355C300 370 340 372 360 365M380 330C420 345 470 330 490 305" fill="none" stroke="#2347d6" stroke-width="14"/>
<path d="M340 320C300 320 280 340 290 355C300 370 340 372 360 365M380 330C420 345 470 330 490 305" fill="none" stroke="#fff" stroke-width="7"/>
<!-- trees -->
<ellipse cx="430" cy="175" rx="50" ry="92" fill="#8ef0b0"/>
<ellipse cx="362" cy="205" rx="52" ry="88" fill="#8fb088"/>
<path d="M358 292V355M420 265V310" fill="none" stroke-width="5"/>
<!-- building under grid roof -->
<polygon points="555,305 740,365 580,430" fill="#2f5fe6" stroke-width="4"/>
<polygon points="680,298 822,298 745,362" fill="#fff" stroke-width="4"/>
<g stroke="#f8b530" stroke-width="10" fill="none"><path d="M705 305l30 35M740 300l30 35M780 300l20 22"/></g>
<polygon points="745,365 825,298 825,560 755,590" fill="#fff" stroke-width="5"/>
<g transform="scale(4.265)"><polygon points="193.400,68 229,68 226,131 193.400,133.600" fill="url(#pDotO2)" stroke="none"/></g>
<path d="M825 290L825 570M975 290L965 560" fill="none" stroke-width="5"/>
<!-- grid roof -->
<g transform="scale(4.265)"><polygon points="134.800,27 213.400,22.700 235.900,65.200 194.600,68 119.600,69.200" fill="url(#pGridC)" stroke="none"/></g>
<polygon points="575,115 910,97 1006,278 830,290 510,295" fill="none" stroke-width="6"/>
<!-- banner -->
<path d="M485 540C560 545 640 510 685 475L685 512C640 540 560 575 485 572Z" fill="#2f5fe6" stroke-width="4"/>
<path d="M490 570V665M685 510V600" fill="none" stroke-width="5"/>
<!-- tree bottom right -->

</g>
<g transform="translate(530 555) scale(0.23447)" stroke="#2347d6" stroke-width="6">
<!-- road dashes -->
<g fill="#fff" stroke="none"><polygon points="210,850 245,825 252,836 217,862"/><polygon points="435,650 470,625 477,636 442,662"/><polygon points="548,550 583,525 590,536 555,562"/><polygon points="665,450 700,425 707,436 672,462"/><polygon points="757,388 797,368 803,380 763,400"/><polygon points="855,335 885,320 890,330 860,346"/></g>
<!-- pavilion roof piece from Q3 -->
<!-- pond table -->
<polygon points="430,18 690,28 645,78 485,72" fill="#2f5fe6" stroke-width="4"/>
<path d="M500 48C540 35 600 50 630 42C640 55 600 62 560 58C530 62 505 58 500 48Z" fill="#fff" stroke="none"/>
<path d="M645 78L600 100M595 90V135" fill="none" stroke-width="5"/>
<!-- pole -->
<polygon points="275,-10 295,-10 322,200 305,200" fill="#fff" stroke-width="4"/>
<!-- horse -->
<path d="M90 95C110 70 130 60 150 50L175 30L180 55C185 75 175 90 165 80C150 75 140 90 150 125M150 60C135 70 130 80 128 95" fill="none" stroke-width="4"/>
<!-- flags -->
<polygon points="580,132 652,146 600,202" fill="#2f5fe6" stroke-width="4"/><path d="M582 132V205M650 146V235M600 200V250" fill="none" stroke-width="4"/>
<polygon points="445,282 520,296 465,342" fill="#2f5fe6" stroke-width="4"/><path d="M447 282V365M518 296V350M460 340V388" fill="none" stroke-width="4"/>
<path d="M780 150C800 120 810 110 800 95C830 115 870 110 895 100C880 120 860 140 850 150C830 135 800 140 780 150Z" fill="#2f5fe6" stroke-width="4"/><path d="M805 150V185M855 152V195M895 100V160" fill="none" stroke-width="4"/>
<!-- benches -->
<polygon points="525,300 600,255 608,266 608,278 536,325 527,314" fill="#fff" stroke-width="4"/><polygon points="525,300 600,255 608,266 535,312" fill="#f8c030" stroke-width="4"/>
<polygon points="40,460 150,410 160,422 160,434 52,488 42,474" fill="#fff" stroke-width="4"/><polygon points="40,460 150,410 160,422 50,475" fill="#f8c030" stroke-width="4"/>
<path d="M45 478V500M125 448V468M165 425V470" fill="none" stroke-width="4"/>
<!-- trees -->
<ellipse cx="170" cy="320" rx="62" ry="96" fill="#8ef0b0"/>
<path d="M280 240C320 245 335 290 340 330C345 380 320 415 280 422C240 415 218 380 220 330C222 280 245 240 280 240Z" fill="#8fb088"/>
<path d="M165 200C190 250 240 268 300 265" fill="none" stroke-width="7"/>
<path d="M170 415V470M268 420V485" fill="none" stroke-width="5"/>
<path d="M100 578C140 585 160 640 158 690C150 740 130 780 95 782C60 770 45 720 48 670C50 620 70 580 100 578Z" fill="#8fb088"/>
<ellipse cx="28" cy="705" rx="50" ry="98" fill="#8ef0b0"/>
<path d="M20 800V850M90 780V835" fill="none" stroke-width="5"/>
<path d="M705 62V135M780 45V108" fill="none" stroke-width="5"/>
<!-- bottom tree cluster -->
<ellipse cx="550" cy="750" rx="36" ry="30" fill="#8fb088" stroke-width="4"/>
<ellipse cx="372" cy="795" rx="46" ry="72" fill="#78d8b8" stroke-width="5"/>
<ellipse cx="468" cy="775" rx="56" ry="58" fill="#8ef0b0" stroke-width="5"/>
<path d="M330 830C380 790 450 775 520 785" fill="none" stroke-width="4"/>
<polygon points="290,880 380,820 400,850 300,900" fill="#fff" stroke-width="4"/>
<g fill="#f58a30" stroke="none"><path d="M238 98c5 0 5 10 1 13 8 12 8 40 2 75h-10c-4-35-2-62 5-75-3-3-3-13 2-13z"/><path d="M548 5c4 0 4 8 1 10l8 12h-20l8-12c-2-3-2-10 3-10z"/></g>
<path d="M232 125L195 90" fill="none" stroke="#f58a30" stroke-width="3"/>
</g>
<g fill="#f58a30" stroke="none">
<use href="#man" x="512" y="455" width="8.500" height="21"/><use href="#man" x="498" y="464" width="8.500" height="21"/>
<use href="#man" x="479.500" y="485.500" width="8" height="20"/><use href="#man" x="489" y="488" width="7" height="16.500"/>
<use href="#man" x="496.500" y="502" width="6" height="13"/><use href="#man" x="504" y="500.500" width="6" height="14"/>
<use href="#man" x="490" y="517" width="8.500" height="20"/><use href="#man" x="485.500" y="525" width="5" height="12"/>
<use href="#man" x="320.500" y="516" width="6.500" height="14"/><use href="#man" x="322" y="537" width="9" height="21"/><use href="#man" x="345" y="534.500" width="7.500" height="18"/>
<use href="#man" x="482" y="385.500" width="8.500" height="20"/>
<use href="#man" x="334.500" y="557" width="7" height="15.500"/><use href="#man" x="370" y="562" width="9" height="21"/>
<use href="#man" x="387.500" y="652" width="9.500" height="25"/>
<use href="#man" x="403" y="681.500" width="10" height="23.500"/><use href="#man" x="395" y="693" width="6.500" height="15"/>
<use href="#man" x="405" y="711" width="9.500" height="22"/><use href="#man" x="425" y="719" width="9.500" height="22.500"/><use href="#man" x="441.500" y="731" width="6.500" height="11.500"/>
<use href="#man" x="463" y="701.500" width="8.500" height="21"/><use href="#man" x="470" y="701.500" width="8.500" height="21"/>
<use href="#man" x="655" y="696" width="8.500" height="26"/><use href="#man" x="664.500" y="693" width="8.500" height="23"/><use href="#man" x="670" y="693" width="8.500" height="23"/>
</g>
<path d="M477 712L485 721" stroke="#f58a30" stroke-width="1" fill="none"/><ellipse cx="486.500" cy="721.500" rx="2.500" ry="1.500" fill="#f58a30"/>
</g>
<circle cx="534" cy="558" r="214" fill="none" stroke="#3358e0" stroke-width="1.3"/>
<g transform="translate(310 340) scale(0.23447)" stroke="#2347d6" stroke-width="6" stroke-linejoin="round" stroke-linecap="round">
<!-- left leaf tree -->
<path d="M150 445C190 480 200 560 150 600C120 610 95 590 75 548C100 520 120 480 150 445Z" fill="#a6ea80" stroke-width="7"/>
<path d="M125 590V650" fill="none" stroke-width="5"/>
<path d="M150 445L75 548L110 575L50 665L85 690" fill="none" stroke-width="7"/>
</g>
</g>

<!-- people.svg -->
<g fill="#f7b4c9" stroke="none">
<use href="#man" x="347" y="383" width="20" height="48"/>
<use href="#man" x="375" y="715.500" width="18" height="42"/>
</g>

<!-- art.svg -->
<g id="art" stroke-linejoin="round" stroke-linecap="round" stroke="#2438cc">
<polygon points="999.5,287.2 1206.6,168.6 1461.5,317.6 1254.4,436.2" fill="url(#pGridF)" stroke="#2233cc" stroke-width="2.400"/>
<!-- view A : [990,240] -->
<g transform="translate(990 240) scale(0.21322)" stroke-width="6">
<polygon points="45,220 295,88 590,258 385,378 385,419" fill="#fde0dc" stroke="none"/>
<polygon points="385,388 1030,730 1030,795 385,419" fill="#fdd08a" stroke-width="4"/>
<polygon points="295,75 335,50 690,258 440,398 385,375 595,255" fill="#c8ddf8" stroke-width="4"/>
<path d="M298 92L590 262" stroke="#f59020" stroke-width="11" fill="none"/>
<!-- planter 3 big sand -->
<polygon points="690,258 970,95 1595,430 1290,590 960,385 935,400" fill="#fbefc4" stroke-width="4"/>
<polygon points="440,398 688,262 935,400 700,535" fill="#eef8a4" stroke-width="4"/>
<polygon points="700,535 960,385 1290,575 1030,728" fill="#fbefc4" stroke-width="4"/>
<!-- planter 1 -->
<polygon points="330,23 650,204 650,248 330,45" fill="#fdd08a" stroke-width="4"/>
<polygon points="650,204 965,34 965,78 650,248" fill="#fdd08a" stroke-width="4"/>
<polygon points="330,23 735,-108 965,34 650,204" fill="#fbefc4" stroke-width="4"/>
<!-- bushes -->
<g stroke-width="4">
<path d="M605 385c-10-30 20-60 55-62 35 0 50 25 45 50-10 30-40 45-60 40-20 0-35-10-40-28z" fill="#a6e8c2"/>
<path d="M690 385c-5-40 30-70 70-65 40 5 65 40 55 75-15 35-50 40-75 35-25-5-45-20-50-45z" fill="#a6e8c2"/>
<path d="M640 330l30 90M680 330l-5 95M735 330l20 100M790 340l-35 92M720 360l35 72" fill="none" stroke-width="3"/>
<path d="M760 235c20-35 70-50 105-45l-40 95c-25 0-50-20-65-50z" fill="#a0dc70"/>
<path d="M965 150c10-40 60-60 105-45 30 15 25 60 5 85-25 25-70 20-95-5-10-10-15-20-15-35z" fill="#a0dc70"/>
<path d="M850 300c-20-50 0-120 50-160 40-20 80 20 90 60 10 40 0 90-20 130-20 40-70 50-90 30-15-15-25-35-30-60z" fill="#d9f8b8"/>
<path d="M905 370V480" fill="none"/>
<path d="M1050 300c-20-70 10-170 70-210 50-20 90 30 100 80 20 30 40 70 30 120-10 60-50 110-100 115-50 5-90-50-100-105z" fill="#d9f8b8"/>
<path d="M1145 560V150M1145 330l-60-50M1145 280l50-70M1145 400l-50-40M1145 440l45-55" fill="none" stroke-width="4"/>
<path d="M860 520c-10-40 30-75 70-70 40 5 60 40 50 70-10 40-40 60-70 55-30-5-45-25-50-55z" fill="#a6e8c2"/>
<path d="M1000 520c10-40 70-50 110-30 35 20 30 60 5 80-30 20-80 15-100-10-10-10-18-25-15-40z" fill="#a8d880"/>
<path d="M935 585c5-40 55-60 95-50 40 10 50 50 30 70-25 25-75 25-105 5-15-10-20-15-20-25z" fill="#a8d880"/>
<path d="M1000 610l-50-60M1000 610l-20-75M1000 610l20-75M1000 610l50-55" fill="none" stroke-width="3"/>
<path d="M1270 480c-10-50-5-150 20-150 25 0 25 50 25 80 10-10 20-20 25-5 5 30-15 60-30 70z" fill="#3d9a5f" stroke-width="3"/><path d="M1262 470c-20-20-25-60-15-65 10 0 12 20 18 35z" fill="#3d9a5f" stroke-width="3"/>
<path d="M1320 470c0-40 40-70 85-65 40 5 60 40 50 70-10 30-40 40-70 40-30-5-55-15-65-45z" fill="#b4e090"/>
<path d="M1385 510l-40-80M1385 510l-10-95M1385 510l30-90M1385 510l60-60" fill="none" stroke-width="3"/>
</g>
<!-- kid + ball -->
<circle cx="245" cy="275" r="28" fill="#fff" stroke-width="4"/>
<path d="M340 140c8-10 18 0 10 15l-5 15 40 40-35-5-5 80-25-45-25 50 5-85-25 5 50-45z" fill="#fff" stroke-width="4"/>
</g>
<!-- view C : [1200,240] -->
<g transform="translate(1200 240) scale(0.21322)" stroke-width="5.500">
<polygon points="300,215 612,415 590,440 275,245" fill="#c8ddf8"/>
<polygon points="610,430 610,485 320,640 300,590" fill="#fdd08a"/>
<polygon points="440,610 565,500 740,620 520,745" fill="#eef8a4"/>
<polygon points="520,745 740,620 740,655 520,780" fill="#f59020"/>
<polygon points="50,760 330,610 370,640 100,790" fill="#c8ddf8"/>
<polygon points="100,790 370,640 370,670 100,820" fill="#f59020"/>
<polygon points="330,690 370,670 520,745 470,770" fill="#c8ddf8"/>
<polygon points="330,690 470,770 470,800 330,720" fill="#f59020"/>
<path d="M460 620c0-50 60-95 120-90 50 5 80 40 75 70-30 30-70 40-110 45-40 0-70-5-85-25z" fill="#b4e090"/>
<path d="M545 645l-60-60M545 645l-20-95M545 645l30-100M545 645l80-70M545 645v50" fill="none" stroke-width="3"/>
<!-- people sitting -->
<path d="M180 560c10-12 25 0 12 20l-8 20 60 30-50 10 40 60-10 70-35-60-60-20c-20-30-5-80 25-100z" fill="#fff"/>
<path d="M420 550c10-12 25 0 12 22l-5 20c25 30 40 80 30 110l-50 20-20 60-25-50-25 40 15-90 50-70z" fill="#fff"/>
<path d="M385 160c8-10 20 0 10 18l-5 12c20 30 25 70 20 105l-60 5c-20-10-20-40-10-70 8-25 20-45 35-55z" fill="#fff"/><polygon points="400,195 430,185 455,235 415,275" fill="#fff" stroke-width="3"/>
<!-- standing right -->
<path d="M1065 185c8-10 20 0 10 18l-8 15c25 10 40 40 45 80l-20-10-15 110-15-70-20 75-5-120-20 10c5-40 20-70 40-85z" fill="#fff"/>
<!-- table & chairs -->
<ellipse cx="900" cy="405" rx="75" ry="28" fill="#fff" stroke="#f59020" stroke-width="5"/><path d="M900 433V500" stroke="#f59020" stroke-width="5" fill="none"/><ellipse cx="900" cy="505" rx="20" ry="7" fill="#f59020" stroke="none"/>
<path d="M870 365c0-20 10-35 25-35 12 0 22 15 22 35z" fill="#f59020" stroke="none"/>
<path d="M770 410c5 30 25 45 50 45l-5 10c-30 0-50-20-55-50z" fill="#f59020" stroke="none"/><path d="M795 455V495" stroke="#f59020" stroke-width="5" fill="none"/><ellipse cx="795" cy="497" rx="15" ry="6" fill="#f59020" stroke="none"/>
</g>
<!-- view B : [990,100] -->
<g transform="translate(990 100) scale(0.21329)" stroke-width="5.500">
<path d="M550 28c60-5 90 50 85 120 10 40 50 80 55 150 0 80-40 190-110 210-70 5-120-80-125-170-5-70-35-100-30-170 5-80 60-135 125-140z" fill="#d9f8b8" stroke-width="5"/>
<path d="M548 500V140M548 330l-60-50M548 280l60-70M548 400l-50-40M548 250l-45-60M548 370l50-40" fill="none" stroke-width="4"/>
<ellipse cx="645" cy="552" rx="86" ry="136" fill="#d9f8b8" stroke-width="5"/>
<path d="M650 780V460M650 620l-45-50M650 580l40-60M650 680l40-50" fill="none" stroke-width="4"/>
<path d="M430 670c0-30 35-50 75-48 40 5 65 30 65 55-10 30-40 45-75 42-35-3-60-20-65-49z" fill="#a6e8c2"/>
<path d="M510 720V665M510 700l-30-30M510 700l30-30" fill="none" stroke-width="3.500"/>
<path d="M655 700c5-40 40-70 80-65 35 10 50 40 40 70-10 35-40 55-75 50-30-5-45-25-45-55z" fill="#a6e8c2"/>
<path d="M712 760V690M712 735l-25-30M712 735l30-35" fill="none" stroke-width="3.500"/>
<!-- people -->
<path d="M815 465c8-10 20 0 10 18l-5 12c20 25 25 60 10 100l-20 40-10-20 10-40-20-5-15 10c-10-40 10-90 40-115z" fill="#fff" stroke-width="4"/>
<path d="M975 505c8-10 20 0 10 18l-5 15c25 30 35 70 40 110l-20-15-15 100-25-110-30 20-35-10c20-50 45-100 80-128z" fill="#fff" stroke-width="4"/>
<path d="M1005 660h25v40h-25zM1030 670l30-10" fill="#fff" stroke-width="3.500"/>
</g>
<!-- view D : [1200,90] pergola -->
<g transform="translate(1200 90) scale(0.21322)" stroke-width="4" fill="none">
<g fill="url(#pVine)" stroke="none" transform="scale(4.69)"><polygon points="-38.4,70.4 -32.0,55.4 -21.3,49.0 -10.7,42.6 0.0,49.0 0.0,68.2 8.5,72.5 4.3,89.6 -6.4,106.6 -17.1,110.9 -27.7,102.3 -36.2,89.6"/><polygon points="0.0,50.1 10.7,37.3 21.3,38.4 32.0,24.5 44.8,26.7 55.4,18.1 66.1,20.3 74.6,11.7 85.3,20.3 95.9,18.1 104.5,27.7 115.1,29.9 119.4,40.5 127.9,45.8 134.3,57.6 138.6,70.4 136.5,85.3 141.8,93.8 132.2,101.3 123.7,91.7 115.1,85.3 100.2,71.4 89.6,74.6 81.0,64.0 70.4,72.5 64.0,70.4 55.4,80.0 46.9,81.0 40.5,89.6 32.0,85.3 25.6,89.6 21.3,77.8 12.8,80.0 8.5,72.5 0.0,68.2"/><polygon points="21.3,103.4 32.0,100.2 42.6,102.3 53.3,115.1 56.5,132.2 58.6,149.3 54.4,168.4 45.8,164.2 36.2,166.3 29.9,157.8 26.7,140.7 27.7,127.9 22.4,115.1"/><polygon points="81.0,85.3 91.7,82.1 106.6,91.7 119.4,97.0 136.5,100.2 149.3,110.9 166.3,115.1 183.4,121.5 181.2,132.2 170.6,136.5 164.2,145.0 153.5,149.3 147.1,157.8 136.5,149.3 127.9,140.7 119.4,132.2 106.6,127.9 95.9,119.4 85.3,110.9 74.6,102.3 72.5,91.7"/></g>
<!-- wire -->
<path d="M150 228L365 80L580 212L365 352ZM150 228V510M365 80V560M470 155V610M580 212V470M258 155L470 290M200 195L420 325M310 118L525 250M470 290L580 212M260 290L470 155"/>
<path d="M20 378L75 350L880 620L880 850M20 378L635 745M75 350L365 232M180 440L470 300M365 560L600 440M470 610L770 570M560 690L880 620M240 470L365 410M640 745L880 620"/>
<path d="M45 400V545M135 480V740M240 545V780M450 650V940M540 700V1000M635 750V1060" stroke-width="3.500"/>
<polygon points="110,735 135,725 240,790 215,800" fill="#6b4a20" stroke="none"/>
<!-- bench -->
<polygon points="635,742 665,728 868,818 820,850" fill="#fdd08a" stroke-width="3"/>
<polygon points="630,745 680,770 680,810 630,795" fill="#f59020" stroke="none"/><polygon points="820,850 868,818 868,860 820,895" fill="#f59020" stroke="none"/>
<path d="M815 680c8-10 20 0 10 18l-5 12c25 20 30 60 10 90l-30 30-15 80-20-100c0-60 20-110 50-130z" fill="#fff"/>
<path d="M345 515c8-10 20 0 10 18l-5 12c30 20 40 70 45 110l-20-10-10 130-25-80-15 70-10-130-15 10c0-50 15-100 45-130z" fill="#fff"/>
</g>
</g>

<!-- shop.svg -->
<g id="shop" stroke-linejoin="round" stroke-linecap="round" stroke="#2a3fd0">
<polygon points="1001.3,744.3 1108.3,688 1108.3,658.2 1180.5,616.7 1232.5,618 1233,628 1461.5,755.3 1234,895.4" fill="#fff" stroke="none"/>
<polygon points="1059.3,777.6 1165.9,719 1234.1,679.6 1349.3,747.8 1357.8,760.6 1313.7,790.4 1360,817.5 1234,895.4" fill="url(#pBrick)" stroke="none"/>
<!-- S1 -->
<g transform="translate(990 590) scale(0.21322)" stroke-width="4">
<polygon points="55,730 555,462 825,605 325,880" fill="#d9f8ea" stroke-width="3"/>
<!-- building lines -->
<path d="M555 320L830 300V600M895 125V262M830 300L1135 135M1140 175L1148 432M1025 490V290L1110 245V440M555 320V462" fill="none" stroke-width="3.500"/>
<polygon points="780,430 1020,335 1060,370 860,482" fill="#e8faf3" stroke-width="3"/><polygon points="780,430 860,482 860,510 780,458" fill="#c5f5e0" stroke-width="3"/><polygon points="860,482 1060,370 1060,398 860,510" fill="#c5f5e0" stroke-width="3"/>
<path d="M790 458V520M862 510V548M1058 398V435" fill="none" stroke-width="3"/>
<!-- pots -->
<g stroke-width="3"><path d="M640 395l8 45h36l8-45zM700 420l8 45h36l8-45zM730 375l6 30h30l6-30zM850 305l6 42h30l6-42zM905 285l6 42h30l6-42z" fill="#fff"/>
<path d="M660 395c-5-20-30-40-30-55 5-10 15 0 18 10 0-20 0-50 10-50 12 0 10 30 8 50 5-5 12 0 8 10-4 10-10 25-8 35z" fill="#8f9cf0"/>
<path d="M722 420c-5-30-25-50-15-75 10-10 20 10 18 30 8-10 15 0 10 12-5 10-10 20-7 33z" fill="#5b6be8"/>
<path d="M745 375c-10-30-25-60-15-90 10-10 18 10 20 35 5-10 15-5 12 8-3 12-10 30-10 47z" fill="#8ef0d0"/>
<path d="M865 305c-10-30-35-70-25-95 12-8 20 15 25 35 5-10 12-5 10 8-2 15-8 30-5 52z" fill="#5b6be8"/>
<path d="M925 285c-8-40-10-80 0-105 10 0 10 30 12 50 5-10 15-5 12 10-4 15-12 25-12 45z" fill="#5b6be8"/>
<path d="M815 430l-15-40 25 20 5-30 10 40M860 425l-10-30 20 15 10-25 5 40M905 415l-15-35 22 18 8-28 8 38M950 400l-12-35 20 18 8-30 8 40M990 380l-10-30 18 15 8-25 5 32" fill="#8ec8f0" stroke-width="2.500"/></g>
<!-- garden strip plants -->
<g stroke-width="3"><circle cx="552" cy="452" r="42" fill="#d5e878" stroke="#c5d860"/><circle cx="608" cy="492" r="36" fill="#d5e878" stroke="#c5d860"/><circle cx="662" cy="518" r="36" fill="#d5e878" stroke="#c5d860"/><circle cx="715" cy="555" r="36" fill="#d5e878" stroke="#c5d860"/>
<path d="M552 494v20M608 528v18M662 554v18M715 590v16" fill="none"/>
<path d="M340 615c10-35 50-35 75-10 25 25 60 30 90 45 35 15 60 45 55 75-10 25-45 20-70 5-30-20-60-25-90-40-35-15-65-40-60-75z" fill="#7fd49a" stroke="#4db070"/>
<g fill="#fff"><circle cx="285" cy="655" r="27"/><circle cx="232" cy="688" r="27"/><circle cx="348" cy="698" r="27"/><circle cx="295" cy="725" r="27"/><circle cx="415" cy="728" r="27"/><circle cx="365" cy="770" r="27"/></g>
<path d="M125 735c10-25 50-35 80-15l-45 45zM195 775c10-25 50-35 80-15l-45 45zM255 815c10-25 50-35 80-15l-40 45z" fill="#7fd4c0"/>
<path d="M440 590l-15-30 18 12 5-28 8 28 15-15-8 35zM490 615l-15-30 18 12 5-28 8 28 15-15-8 35zM545 600l-15-30 18 12 5-28 8 28 15-15-8 35zM540 655l-15-30 18 12 5-28 8 28 15-15-8 35zM595 620l-15-30 18 12 5-28 8 28 15-15-8 35zM600 670l-15-30 18 12 5-28 8 28 15-15-8 35zM640 640l-15-30 18 12 5-28 8 28 15-15-8 35zM645 700l-15-30 18 12 5-28 8 28 15-15-8 35zM685 660l-15-30 18 12 5-28 8 28 15-15-8 35z" fill="#a8e8f0" stroke="#3a55e0" stroke-width="2.500"/>
<path d="M425 740l55-25v35l-55 25zM320 805l45-22v32l-45 22z" fill="#fff"/><path d="M452 762v40M342 830v35" fill="none"/></g>
<!-- tree top right + bushes -->
<ellipse cx="1225" cy="40" rx="120" ry="150" fill="#e8faf3" stroke-width="3.500"/>
<path d="M1218 335V-60M1218 130l-70-60M1218 90l75-70M1218 190l-55-45M1218 160l60-50" fill="none" stroke-width="3.500"/>
<ellipse cx="1285" cy="268" rx="72" ry="60" fill="#e8faf3" stroke-width="3"/><ellipse cx="1365" cy="328" rx="66" ry="50" fill="#e8faf3" stroke-width="3"/>
<path d="M1285 325l-5-60M1282 300l-35-40M1282 290l40-45M1365 372v-50M1365 350l-30-30M1365 345l32-32" fill="none" stroke-width="3"/>
<!-- people left -->
<path d="M520 765c8-10 20 0 10 18l-3 12c20 15 30 50 30 90l-15-5-8 110-15-70-12 75-15-120-15 5c0-50 20-95 55-115z" fill="#fff" stroke-width="3.500"/>
<path d="M600 775c25-15 40 10 35 40l-50-5c0-15 5-28 15-35z" fill="#fff" stroke-width="3.500"/>
</g>
<!-- S3 -->
<g transform="translate(1060 720) scale(0.21322)" stroke-width="3.500">
<!-- bottom bed -->
<polygon points="740,605 1095,390 1305,515 955,740" fill="#f1f5cc" stroke-width="3"/>
<!-- planter B back-center -->
<polygon points="425,125 590,215 590,285 425,180" fill="url(#pVbarLS)"/>
<polygon points="425,125 640,-5 815,85 590,215" fill="#f1f5cc"/>
<polygon points="590,215 815,85 815,130 590,285" fill="#e4f6f8"/>
<!-- planter C/D big block -->
<polygon points="650,190 860,300 860,425 650,300" fill="url(#pVbarLS)"/>
<polygon points="860,300 1240,85 1240,195 860,425" fill="url(#pHbarS)"/>
<polygon points="650,190 870,60 905,80 1060,-15 1240,85 860,300" fill="#e6f8ee"/>
<polygon points="690,190 870,85 1000,160 830,262" fill="#f1f5cc" stroke-width="3"/>
<polygon points="930,65 1060,-5 1200,80 1075,150" fill="#f1f5cc" stroke-width="3"/>
<polygon points="850,75 905,45 1060,135 1005,165" fill="#f1f5cc" stroke-width="3"/>
<!-- planter A -->
<polygon points="235,235 355,170 500,250 560,245 790,375 635,465 320,300" fill="#e6f8ee"/>
<polygon points="250,238 355,185 470,250 370,300" fill="#f1f5cc" stroke-width="3"/>
<polygon points="470,320 565,262 755,375 640,440" fill="#f1f5cc" stroke-width="3"/>
<polygon points="320,300 420,352 420,385 635,500 635,465 635,545 320,370" fill="#aef3dc"/>
<polygon points="320,300 635,465 635,545 320,372" fill="#aef3dc"/>
<polygon points="635,465 790,375 790,452 635,545" fill="url(#pHbarS)"/>
<!-- plants -->
<ellipse cx="395" cy="215" rx="62" ry="52" fill="#e8faf3" stroke-width="3"/><path d="M395 268v-50M395 250l-35-35M395 245l38-38M395 235l-15-45M395 235l18-45" fill="none" stroke-width="3"/>
<circle cx="788" cy="150" r="66" fill="#dcec90" stroke-width="3"/><path d="M788 200v-80M788 170l-40-30M788 160l42-35M788 185l-30-15" fill="none" stroke-width="3"/>
<path d="M930 50c10-25 50-35 80-15l-45 45zM1000 85c10-25 50-35 80-15l-45 45zM985 15c10-25 50-35 75-15l-40 40z" fill="#50c0b0" stroke-width="2.500"/>
<path d="M500 320c15-20 50-25 75-10l-40 35zM585 350c15-20 50-25 75-10l-25 45zM680 350c10-15 30-15 45 0l-20 20z" fill="#e8faf3" stroke-width="2.500"/>
<path d="M520 150l-15-70M520 150l5-80M520 150l25-60M560 165l-10-60M560 165l25-70M600 150l-5-50M480 130l-10-50M620 60l-20-50M640 60l10-50" fill="none" stroke="#6a7fe8" stroke-width="3"/>
<!-- bed plants -->
<g fill="#d3e878" stroke="#b5cc58" stroke-width="3"><circle cx="895" cy="565" r="30"/><circle cx="840" cy="605" r="30"/><circle cx="965" cy="595" r="30"/><circle cx="915" cy="635" r="30"/><circle cx="1030" cy="625" r="30"/><circle cx="975" cy="668" r="30"/><circle cx="1095" cy="590" r="30"/><circle cx="1160" cy="550" r="30"/><circle cx="1235" cy="500" r="30"/></g>
<path d="M940 490l-20-40M940 490l0-50M940 490l20-45M990 520l-20-40M990 520l0-50M990 520l20-45M1000 450l-15-40M1000 450l5-45M1050 480l-15-40M1050 480l5-45M1045 420l-15-40M1045 420l5-45M1100 450l-15-40M1100 450l5-45M1095 390l-10-35M1095 390l8-38M1150 420l-15-40M1150 420l5-45M1040 560l-15-40M1040 560l5-45M1090 520l-15-40M1090 520l5-45" fill="none" stroke="#3a66e0" stroke-width="3.500"/>
<path d="M785 535l40-20v30l-40 20zM1175 380l40 20v35l-40-20z" fill="#fff" stroke-width="3"/><path d="M805 558v40M1195 425v45" fill="none"/>
<path d="M705 525h40l-5 45h-30zM935 405h40l-5 35h-30z" fill="#fff" stroke-width="3"/>
<!-- people -->
<path d="M190 155c8-10 20 0 10 18l-3 12c20 15 30 50 30 90l-15-5-8 110-15-70-12 75-15-120-15 5c0-50 20-95 55-115z" fill="#fff"/>
<path d="M275 140c25-15 45 10 40 45l-55-5c0-15 5-30 15-40z" fill="#fff"/>
<path d="M300 250c8-8 18 0 8 14l40 20-30 10 5 80-25-45-20 50-5-95-25-10 45-10z" fill="#fff"/>
<path d="M575 225c20-10 35 10 25 40 10 20 10 40 0 50h-40c-10-30-5-70 15-90z" fill="#e8faf3"/>
<path d="M655 250c20-10 35 10 25 35 10 20 10 35 0 45h-35c-10-30-5-60 10-80z" fill="#c5f5e0"/>
<path d="M805 200c8-10 20 0 10 18l-3 12c15 15 20 40 20 70l30 10-35 5 5 100-20-30-15 40-30-100c-5-50 5-95 35-115z" fill="#fff"/>
<path d="M1160 40c8-10 20 0 10 18l-3 12c20 15 30 50 30 90l-15-5-8 110-15-70-12 75-15-120-15 5c0-50 20-95 55-115z" fill="#fff"/>
<path d="M1315 275c8-10 20 0 10 18l-3 12c20 15 30 50 30 90l-15-5-8 80-15-50-12 55-15-90-15 5c0-50 20-85 55-105z" fill="#fff"/>
<path d="M640 540c5-8 15-2 8 10l35 25-35 5 15 70-30-35-25 45 10-85-35-30 40 5z" fill="#fff"/>
<path d="M1235 235c20-25 60-45 75-40 10 10-20 45-50 60z" fill="#fff"/><path d="M1290 215l45-35" fill="none"/>
</g>
<!-- S2 -->
<g transform="translate(1200 590) scale(0.21322)" stroke-width="3.500">
<path d="M160 230V420L700 740C735 765 745 790 740 800L600 880" fill="none" stroke-width="3"/>
<!-- big tree right -->
<path d="M990 160c60-5 90 50 95 110 15 60 50 110 45 190-5 80-60 150-140 155-80-5-135-70-135-150 0-80 40-130 50-200 10-60 40-100 85-105z" fill="#c8f5e2" stroke-width="4.500"/>
<path d="M978 830V215M978 400l-70-60M978 350l75-70M978 480l-65-55M978 440l70-60M978 560l-55-45M978 530l60-50M978 300l-50-45M978 270l45-45" fill="none" stroke-width="3.500"/>
<ellipse cx="900" cy="812" rx="76" ry="50" fill="#e8faf3" stroke-width="3"/><ellipse cx="1065" cy="738" rx="66" ry="50" fill="#e8faf3" stroke-width="3"/>
<path d="M900 855l-5-60M897 840l-40-40M897 835l42-42M1065 782v-55M1065 765l-35-35M1065 760l36-36" fill="none" stroke-width="3"/>
<ellipse cx="150" cy="560" rx="66" ry="56" fill="#e8faf3" stroke-width="3"/><path d="M138 645v-100M138 600l-35-35M138 590l40-40" fill="none" stroke-width="3"/>
<!-- bench -->
<polygon points="480,322 765,447 760,520 478,392" fill="url(#pVbarLS)" stroke-width="3"/>
<polygon points="430,420 478,392 760,520 715,548" fill="url(#pHbarS)" stroke-width="3"/>
<path d="M432 420V490M715 548V600M758 520V585" fill="none" stroke="#d0a050" stroke-width="4"/>
<!-- balloon -->
<ellipse cx="620" cy="268" rx="33" ry="42" fill="#5858ee" stroke="#4040d8" stroke-width="3"/><path d="M620 310c-5 15 15 25 5 45" fill="none" stroke-width="2.500"/>
<!-- people -->
<path d="M690 375c8-10 20 0 10 18l-3 12c20 15 25 60 20 110l-5 90-15-60-10 70-20-110c-10-60 0-110 23-130z" fill="#fff"/>
<path d="M500 360c15-5 25 10 15 25l20 20-40 15-5 55-15-45-10 30v-60c5-20 20-35 35-40z" fill="#fff"/>
<path d="M540 500c8-8 18 0 8 14l35-15-25 35 10 75-25-40-20 45 5-85-25-25 35 10z" fill="#fff"/>
<path d="M450 525c8-10 20 0 10 18l-3 12c15 15 20 40 15 60l-25 40-5-50-25-20c0-25 15-50 33-60z" fill="#fff"/>
<path d="M505 650c8-10 20 0 10 18l-3 12c20 15 30 50 30 90l-15-5-8 110-15-70-12 75-15-120-15 5c0-50 20-95 55-115z" fill="#fff"/>
<path d="M810 600c8-8 18 0 8 14l30 35-25-5 5 65-20-30-15 35 0-70-25 5 40-35z" fill="#fff"/>
<circle cx="750" cy="685" r="20" fill="#f5c8a0" stroke-width="3"/>
<path d="M575 850c20-25 60-45 75-40 10 10-20 45-50 60z" fill="#fff"/><path d="M630 830l35-40" fill="none"/>
</g>
<polygon points="1001.3,744.3 1108.3,688 1108.3,658.2 1180.5,616.7 1232.5,618 1233,628 1461.5,755.3 1234,895.4" fill="none" stroke="#1f22d8" stroke-width="2.300"/>
</g>

<!-- header.svg -->
<g id="hdr">
<rect x="41.3" y="17.3" width="88.7" height="2.600" fill="#8ef6d2"/><rect x="41.3" y="114.200" width="56" height="2.600" fill="#8ef6d2"/>
<text x="46" y="117" font-size="150" font-weight="700" fill="#8ef6d2" transform="translate(46 116.800) scale(0.45 1.025) translate(-46 -117)" style="font-family:'Liberation Serif',serif">III</text>
<polygon points="95.5,60.8 128,52.5 171.5,54.4 152.5,61.6" fill="#fff" stroke="#1c45e6" stroke-width="1.6" stroke-linejoin="round"/>
<polygon points="152.5,61.6 171.5,54.4 172,105.6 152.5,116.8" fill="#fff" stroke="#1c45e6" stroke-width="1.6" stroke-linejoin="round"/>
<polyline points="155.5,63 169,57.8 169.3,104" fill="none" stroke="#1c45e6" stroke-width="1"/>
<rect x="95.5" y="60.8" width="57" height="56" fill="#1c45e6"/>
<text x="128" y="101.500" font-size="37" font-weight="700" fill="#fff" text-anchor="middle" transform="translate(128 0) scale(1.6 1) translate(-128 0)" style="font-family:'Liberation Serif',serif">3</text>
</g>

<!-- wm.svg -->
<g id="wmicon" fill="none" stroke="#cfcfcf" stroke-width="1.200"><rect x="1317.500" y="883" width="14.500" height="14.500" fill="#e4e4e4"/><path d="M1320 886h10M1320 889h10M1320 892h10M1320 895h6M1325 883v14"/><path d="M1417.500 882v17" stroke="#cfcfcf" stroke-width="1.300"/></g>

</svg>
<div class="ttl" id="ttl" style="left:180.1px;top:76px"><span style="color:#6a70da">空间支撑<span class="dash">-</span></span><span style="color:#5fe9b9">基础服务设施扩建</span></div>
<div class="t" id="t1" style="left:31.3px;top:199.8px">西安市十四五计划最新提出的<br>发展关键词是：<span class="q">“</span>人文之都-生<br>态都市<span class="q">”</span><span class="q">“</span>田园休闲<span class="q">”</span>。</div>
<div class="t" id="t2" style="left:708.3px;top:184.8px"><span class="q">“</span>以人为本<span class="q">”</span>人是设计者也是<br>受益主体，拥有创造和更改环<br>境的能力与思想</div>
<div class="t" id="t3" style="left:943.3px;top:408px">在现代乡村发展空间系统存在<br>诸多思考与问题的基础上，选<br>择如何灵活运用支撑理论</div>
<div class="t" id="t4" style="left:943px;top:575.5px">追求少费多用，以人为本<br>的设计优化乡村居住空间<br>这个论题。</div>
<div class="t" id="t5" style="left:24.2px;top:582px">在现代快节奏生活现状下我们<br>对居住环境的需要表现在精神<br>与物质的双重满足.</div>
<div class="t" id="t6" style="left:98px;top:827px">重文化艺术性，休<br>闲与个性多元化的<br>倾向。</div>
<div class="l" id="l1" style="left:414.3px;top:323.7px">休闲长椅</div>
<div class="l" id="l2" style="left:670.2px;top:325px">下棋区</div>
<div class="l" id="l3" style="left:803px;top:475.3px">乒乓球区</div>
<div class="l" id="l4" style="left:207.5px;top:565px">立体种植</div>
<div class="l" id="l5" style="left:802.7px;top:738px">儿童游乐区</div>
<div class="l" id="l6" style="left:215.3px;top:790px">休闲廊架</div>
<div class="l" id="l7" style="left:475px;top:887.7px">解压墙</div>
<div class="l" id="l8" style="left:799.2px;top:884.3px">走走植</div>
<div class="l" id="l9" style="left:1318.5px;top:429.8px">艺术馆室外景观</div>
<div class="l" id="l10" style="left:1328.4px;top:868.5px">走走植售卖点</div>
<div class="wm" id="wm1" style="left:1334px;top:877px;font-size:13px;letter-spacing:0px;font-family:'Liberation Serif','Noto Serif CJK SC',serif;font-style:italic;font-weight:700;color:#d2d2d2">西安美术学院</div>
<div class="wm" id="wm2" style="left:1420px;top:879.5px;font-size:15px;font-weight:700;letter-spacing:0px;color:#c4c4c4">毕业展</div>
<div class="wm" id="wm3" style="left:1316.5px;top:896.5px;font-size:15.6px;font-family:'Liberation Sans',sans-serif;letter-spacing:0.25px;color:#c6c6c6">xafa.meishu.org.cn</div>
</div></body></html>
